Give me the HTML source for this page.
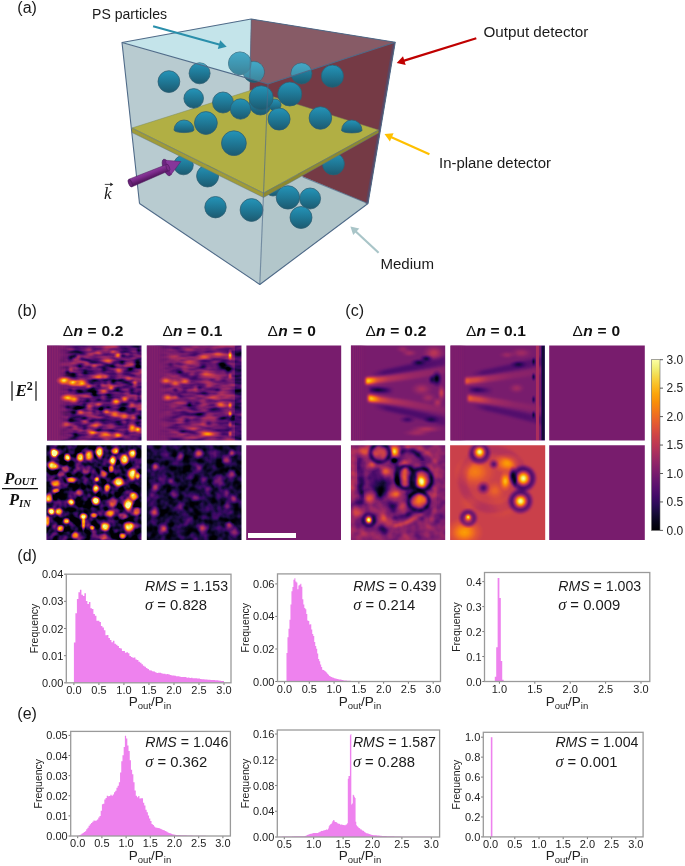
<!DOCTYPE html><html><head><meta charset="utf-8"><style>html,body{margin:0;padding:0;background:#fff;}svg{display:block;will-change:transform;}</style></head><body>
<svg width="685" height="866" viewBox="0 0 685 866">
<defs>
<linearGradient id="sph" x1="0" y1="0" x2="0" y2="1">
 <stop offset="0" stop-color="#2494b8"/>
 <stop offset="0.5" stop-color="#1f7896"/>
 <stop offset="1" stop-color="#1c5a70"/>
</linearGradient>
<linearGradient id="sphL" x1="0" y1="0" x2="0" y2="1">
 <stop offset="0" stop-color="#38acd0"/>
 <stop offset="0.6" stop-color="#2a8eb0"/>
 <stop offset="1" stop-color="#25708c"/>
</linearGradient>
<linearGradient id="purp" x1="0" y1="0" x2="0" y2="1">
 <stop offset="0" stop-color="#8a3a9a"/>
 <stop offset="0.5" stop-color="#7a2a88"/>
 <stop offset="1" stop-color="#4e1558"/>
</linearGradient>
<filter id="inf" x="-5%" y="-5%" width="110%" height="110%" color-interpolation-filters="sRGB"><feComponentTransfer><feFuncR type="table" tableValues="0.001 0.008 0.019 0.042 0.066 0.099 0.129 0.170 0.204 0.245 0.278 0.310 0.348 0.379 0.416 0.447 0.485 0.516 0.553 0.585 0.616 0.652 0.683 0.718 0.747 0.781 0.807 0.837 0.861 0.882 0.906 0.923 0.942 0.955 0.967 0.976 0.983 0.987 0.988 0.987 0.983 0.976 0.968 0.957 0.949 0.948 0.962 0.988"/><feFuncG type="table" tableValues="0.000 0.006 0.015 0.028 0.039 0.046 0.047 0.042 0.038 0.037 0.042 0.051 0.065 0.076 0.090 0.102 0.115 0.126 0.139 0.150 0.162 0.176 0.190 0.207 0.222 0.243 0.263 0.288 0.312 0.337 0.370 0.399 0.436 0.469 0.509 0.544 0.587 0.623 0.660 0.706 0.744 0.790 0.829 0.874 0.910 0.949 0.976 0.998"/><feFuncB type="table" tableValues="0.014 0.047 0.089 0.141 0.187 0.244 0.291 0.341 0.373 0.400 0.414 0.424 0.430 0.433 0.433 0.431 0.427 0.421 0.412 0.402 0.391 0.376 0.361 0.341 0.323 0.300 0.279 0.253 0.231 0.208 0.179 0.155 0.125 0.100 0.069 0.044 0.025 0.028 0.052 0.096 0.138 0.196 0.250 0.324 0.395 0.491 0.572 0.645"/><feFuncA type="identity"/></feComponentTransfer></filter><radialGradient id="gw2"><stop offset="0.00" stop-color="#fff" stop-opacity="1.00"/><stop offset="0.30" stop-color="#fff" stop-opacity="0.96"/><stop offset="0.50" stop-color="#fff" stop-opacity="0.70"/><stop offset="0.70" stop-color="#fff" stop-opacity="0.30"/><stop offset="0.85" stop-color="#fff" stop-opacity="0.08"/><stop offset="1.00" stop-color="#fff" stop-opacity="0.00"/></radialGradient><radialGradient id="gk2"><stop offset="0.00" stop-color="#000" stop-opacity="1.00"/><stop offset="0.30" stop-color="#000" stop-opacity="0.96"/><stop offset="0.50" stop-color="#000" stop-opacity="0.70"/><stop offset="0.70" stop-color="#000" stop-opacity="0.30"/><stop offset="0.85" stop-color="#000" stop-opacity="0.08"/><stop offset="1.00" stop-color="#000" stop-opacity="0.00"/></radialGradient><radialGradient id="gw"><stop offset="0.00" stop-color="#fff" stop-opacity="1.00"/><stop offset="0.20" stop-color="#fff" stop-opacity="0.88"/><stop offset="0.40" stop-color="#fff" stop-opacity="0.61"/><stop offset="0.60" stop-color="#fff" stop-opacity="0.32"/><stop offset="0.80" stop-color="#fff" stop-opacity="0.13"/><stop offset="1.00" stop-color="#fff" stop-opacity="0.00"/></radialGradient><radialGradient id="gk"><stop offset="0.00" stop-color="#000" stop-opacity="1.00"/><stop offset="0.20" stop-color="#000" stop-opacity="0.88"/><stop offset="0.40" stop-color="#000" stop-opacity="0.61"/><stop offset="0.60" stop-color="#000" stop-opacity="0.32"/><stop offset="0.80" stop-color="#000" stop-opacity="0.13"/><stop offset="1.00" stop-color="#000" stop-opacity="0.00"/></radialGradient><filter id="rb" x="-20%" y="-20%" width="140%" height="140%"><feGaussianBlur stdDeviation="0.9"/></filter><filter id="rb2" x="-30%" y="-30%" width="160%" height="160%"><feGaussianBlur stdDeviation="1.8"/></filter></defs>
<rect width="685" height="866" fill="#fff"/>
<polygon points="122.0,42.5 268.0,84.0 395.2,42.2 368.0,203.5 259.8,284.5 139.5,203.5" fill="#b8cbd0"/>
<polygon points="268.0,84.0 395.2,42.2 368.0,203.5 259.8,284.5" fill="#b2c6ca"/>
<polygon points="122.0,42.5 251.2,19.0 249.9,78.9" fill="#c4e4ea"/>
<polygon points="251.2,19.0 395.2,42.2 368.0,203.5 248.3,154.0" fill="#753a45"/>
<polygon points="251.2,19.0 395.2,42.2 268.0,84.0 249.9,78.9" fill="#875b66"/>
<polygon points="395.2,42.2 392.6,42.8 365.6,203.8 368.0,203.5" fill="#5d4560"/>
<circle cx="183.5" cy="165.0" r="9.8" fill="url(#sph)" stroke="#2d5e72" stroke-width="0.75"/>
<circle cx="207.6" cy="176.0" r="11.0" fill="url(#sph)" stroke="#2d5e72" stroke-width="0.75"/>
<circle cx="273.0" cy="188.5" r="7.5" fill="url(#sph)" stroke="#2d5e72" stroke-width="0.75"/>
<circle cx="333.4" cy="163.9" r="11.0" fill="url(#sph)" stroke="#2d5e72" stroke-width="0.75"/>
<circle cx="215.5" cy="207.2" r="10.7" fill="url(#sph)" stroke="#2d5e72" stroke-width="0.75"/>
<circle cx="251.5" cy="210.0" r="11.4" fill="url(#sph)" stroke="#2d5e72" stroke-width="0.75"/>
<circle cx="287.9" cy="197.4" r="11.7" fill="url(#sph)" stroke="#2d5e72" stroke-width="0.75"/>
<circle cx="310.1" cy="198.5" r="10.5" fill="url(#sph)" stroke="#2d5e72" stroke-width="0.75"/>
<circle cx="301.0" cy="217.5" r="11.0" fill="url(#sph)" stroke="#2d5e72" stroke-width="0.75"/>
<polygon points="132.0,128.0 263.5,193.0 263.5,197.5 132.0,132.5" fill="#a09b37"/>
<polygon points="263.5,193.0 378.5,130.0 378.5,133.0 263.5,197.5" fill="#8d892f"/>
<polygon points="132.0,128.0 252.0,90.0 378.5,130.0 263.5,193.0" fill="#b1af44" stroke="#7d8a5a" stroke-width="0.5"/>
<polyline points="132.0,128.0 263.5,193.0 378.5,130.0" fill="none" stroke="#5f7480" stroke-width="0.6" opacity="0.8"/>
<polyline points="132.0,132.5 263.5,197.5 378.5,133.0" fill="none" stroke="#5f7480" stroke-width="0.6" opacity="0.8"/>
<path d="M174.0,130.0 A10.0,10.0 0 0 1 194.0,130.0 A10.0,2.6 0 0 1 174.0,130.0 Z" fill="url(#sph)" stroke="#2d5e72" stroke-width="0.75"/>
<path d="M341.6,130.3 A10.2,10.3 0 0 1 362.0,130.3 A10.2,2.6 0 0 1 341.6,130.3 Z" fill="url(#sph)" stroke="#2d5e72" stroke-width="0.75"/>
<circle cx="301.5" cy="73.5" r="10.5" fill="url(#sph)" stroke="#2d5e72" stroke-width="0.75"/>
<circle cx="332.4" cy="76.2" r="11.1" fill="url(#sph)" stroke="#2d5e72" stroke-width="0.75"/>
<circle cx="253.8" cy="72.0" r="10.5" fill="url(#sph)" stroke="#2d5e72" stroke-width="0.75"/>
<circle cx="239.9" cy="63.3" r="11.4" fill="url(#sph)" stroke="#2d5e72" stroke-width="0.75"/>
<circle cx="168.9" cy="81.6" r="10.9" fill="url(#sph)" stroke="#2d5e72" stroke-width="0.75"/>
<circle cx="199.6" cy="73.3" r="10.5" fill="url(#sph)" stroke="#2d5e72" stroke-width="0.75"/>
<circle cx="193.7" cy="98.4" r="9.8" fill="url(#sph)" stroke="#2d5e72" stroke-width="0.75"/>
<circle cx="260.4" cy="104.0" r="11.0" fill="url(#sph)" stroke="#2d5e72" stroke-width="0.75"/>
<circle cx="275.0" cy="105.0" r="6.0" fill="url(#sph)" stroke="#2d5e72" stroke-width="0.75"/>
<circle cx="261.2" cy="97.7" r="12.0" fill="url(#sph)" stroke="#2d5e72" stroke-width="0.75"/>
<circle cx="289.8" cy="94.0" r="12.0" fill="url(#sph)" stroke="#2d5e72" stroke-width="0.75"/>
<circle cx="223.0" cy="102.5" r="10.5" fill="url(#sph)" stroke="#2d5e72" stroke-width="0.75"/>
<circle cx="240.5" cy="109.0" r="10.2" fill="url(#sph)" stroke="#2d5e72" stroke-width="0.75"/>
<circle cx="205.9" cy="123.0" r="11.4" fill="url(#sph)" stroke="#2d5e72" stroke-width="0.75"/>
<circle cx="233.9" cy="143.2" r="12.4" fill="url(#sph)" stroke="#2d5e72" stroke-width="0.75"/>
<circle cx="279.1" cy="119.1" r="11.0" fill="url(#sph)" stroke="#2d5e72" stroke-width="0.75"/>
<circle cx="320.4" cy="118.0" r="11.3" fill="url(#sph)" stroke="#2d5e72" stroke-width="0.75"/>
<clipPath id="topL"><polygon points="122.0,42.5 251.2,19.0 395.2,42.2 268.0,84.0"/></clipPath>
<g clip-path="url(#topL)" opacity="0.35">
<circle cx="301.5" cy="73.5" r="10.5" fill="#7fd0e6"/>
<circle cx="332.4" cy="76.2" r="11.1" fill="#7fd0e6"/>
<circle cx="253.8" cy="72.0" r="10.5" fill="#7fd0e6"/>
<circle cx="239.9" cy="63.3" r="11.4" fill="#7fd0e6"/>
<circle cx="168.9" cy="81.6" r="10.9" fill="#7fd0e6"/>
<circle cx="199.6" cy="73.3" r="10.5" fill="#7fd0e6"/>
<circle cx="193.7" cy="98.4" r="9.8" fill="#7fd0e6"/>
<circle cx="260.4" cy="104.0" r="11.0" fill="#7fd0e6"/>
<circle cx="275.0" cy="105.0" r="6.0" fill="#7fd0e6"/>
<circle cx="261.2" cy="97.7" r="12.0" fill="#7fd0e6"/>
<circle cx="289.8" cy="94.0" r="12.0" fill="#7fd0e6"/>
<circle cx="223.0" cy="102.5" r="10.5" fill="#7fd0e6"/>
<circle cx="240.5" cy="109.0" r="10.2" fill="#7fd0e6"/>
<circle cx="205.9" cy="123.0" r="11.4" fill="#7fd0e6"/>
<circle cx="233.9" cy="143.2" r="12.4" fill="#7fd0e6"/>
<circle cx="279.1" cy="119.1" r="11.0" fill="#7fd0e6"/>
<circle cx="320.4" cy="118.0" r="11.3" fill="#7fd0e6"/>
</g>
<polyline points="139.5,203.5 122.0,42.5 251.2,19.0 395.2,42.2 368.0,203.5 259.8,284.5 139.5,203.5" stroke="#4f6a88" stroke-width="1.1" fill="none" stroke-linejoin="round"/>
<polyline points="122.0,42.5 268.0,84.0 395.2,42.2" stroke="#4f6a88" stroke-width="1.1" fill="none" stroke-linejoin="round"/>
<line x1="268.0" y1="84.0" x2="259.8" y2="284.5" stroke="#4f6a88" stroke-width="1.1" fill="none" stroke-linejoin="round" opacity="0.65"/>
<line x1="251.2" y1="19.0" x2="249.9" y2="78.9" stroke="#4f6a88" stroke-width="1.1" fill="none" stroke-linejoin="round" opacity="0.6"/>
<line x1="302.8" y1="177.0" x2="368.0" y2="203.5" stroke="#4f6a88" stroke-width="1.1" fill="none" stroke-linejoin="round" opacity="0.7"/>
<linearGradient id="shaftG" gradientUnits="userSpaceOnUse" x1="146.5" y1="169.5" x2="149.9" y2="178.2"><stop offset="0" stop-color="#5a1a68"/><stop offset="0.25" stop-color="#8c3c9c"/><stop offset="0.6" stop-color="#7a2a89"/><stop offset="1" stop-color="#561862"/></linearGradient>
<ellipse cx="166.8" cy="167.5" rx="3.6" ry="8.8" transform="rotate(-21.4 166.8 167.5)" fill="#6d2380" stroke="#4a1a5a" stroke-width="0.6"/>
<path d="M165.2,160.2 L180.8,161.6 L170.8,174.9 Q167.5,168 165.2,160.2 Z" fill="#86369a" stroke="#5a1a66" stroke-width="0.5"/>
<polygon points="128.9,179.2 167,164.3 168.8,170.8 131.6,187" fill="url(#shaftG)" stroke="#4a1a5a" stroke-width="0.5"/>
<ellipse cx="167.9" cy="167.55" rx="1.6" ry="3.6" transform="rotate(-21.4 167.9 167.55)" fill="#7a2a88" stroke="#4a1a5a" stroke-width="0.5"/>
<ellipse cx="130.25" cy="183.1" rx="1.7" ry="4" transform="rotate(-21.4 130.25 183.1)" fill="#6a2278" stroke="#4a1a5a" stroke-width="0.6"/>
<line x1="153.1" y1="26.2" x2="220.0" y2="44.8" stroke="#2a8fab" stroke-width="2.2"/><polygon points="226.7,46.7 217.8,48.9 220.2,40.2" fill="#2a8fab"/>
<line x1="476.3" y1="38.3" x2="403.4" y2="60.9" stroke="#c00000" stroke-width="2.2"/><polygon points="396.7,63.0 403.0,56.3 405.7,64.9" fill="#c00000"/>
<line x1="429.4" y1="154.3" x2="390.9" y2="137.0" stroke="#ffc000" stroke-width="2.2"/><polygon points="384.5,134.1 393.6,133.3 389.9,141.5" fill="#ffc000"/>
<line x1="378.6" y1="252.7" x2="355.5" y2="231.2" stroke="#a9c5c8" stroke-width="2.2"/><polygon points="350.4,226.4 359.3,228.6 353.2,235.1" fill="#a9c5c8"/>
<text x="17.3" y="12.7" font-size="16" font-family="Liberation Sans, sans-serif" fill="#1a1a1a">(a)</text>
<text x="92" y="19.3" font-size="14" font-family="Liberation Sans, sans-serif" fill="#1a1a1a" textLength="75" lengthAdjust="spacingAndGlyphs">PS particles</text>
<text x="483.4" y="37.3" font-size="14" font-family="Liberation Sans, sans-serif" fill="#1a1a1a" textLength="105" lengthAdjust="spacingAndGlyphs">Output detector</text>
<text x="439" y="168.4" font-size="14" font-family="Liberation Sans, sans-serif" fill="#1a1a1a" textLength="112" lengthAdjust="spacingAndGlyphs">In-plane detector</text>
<text x="380.4" y="268.7" font-size="14" font-family="Liberation Sans, sans-serif" fill="#1a1a1a" textLength="53.6" lengthAdjust="spacingAndGlyphs">Medium</text>
<text x="104" y="198.6" font-size="17" font-family="Liberation Serif, serif" font-style="italic" fill="#1a1a1a">k</text>
<path d="M104.8,184.4 H111" stroke="#333" stroke-width="0.9" fill="none"/><polygon points="110.3,182.5 113.3,184.4 110.3,186.3" fill="#222"/>
<clipPath id="cp_b1"><rect x="47.00" y="345.40" width="94.50" height="95.10"/></clipPath>
<filter id="nf_b1" x="0" y="0" width="1" height="1" color-interpolation-filters="sRGB"><feTurbulence type="fractalNoise" baseFrequency="0.060 0.180" numOctaves="2" seed="3" result="t"/><feColorMatrix in="t" type="matrix" values="1 0 0 0 0  1 0 0 0 0  1 0 0 0 0  0 0 0 0 1" result="ng"/><feComposite in="SourceGraphic" in2="ng" operator="arithmetic" k1="0" k2="1" k3="0.750" k4="-0.375"/><feColorMatrix type="matrix" values="1 0 0 0 0  0 1 0 0 0  0 0 1 0 0  0 0 0 0 1"/><feComponentTransfer><feFuncR type="table" tableValues="0.001 0.008 0.019 0.042 0.066 0.099 0.129 0.170 0.204 0.245 0.278 0.310 0.348 0.379 0.416 0.447 0.485 0.516 0.553 0.585 0.616 0.652 0.683 0.718 0.747 0.781 0.807 0.837 0.861 0.882 0.906 0.923 0.942 0.955 0.967 0.976 0.983 0.987 0.988 0.987 0.983 0.976 0.968 0.957 0.949 0.948 0.962 0.988"/><feFuncG type="table" tableValues="0.000 0.006 0.015 0.028 0.039 0.046 0.047 0.042 0.038 0.037 0.042 0.051 0.065 0.076 0.090 0.102 0.115 0.126 0.139 0.150 0.162 0.176 0.190 0.207 0.222 0.243 0.263 0.288 0.312 0.337 0.370 0.399 0.436 0.469 0.509 0.544 0.587 0.623 0.660 0.706 0.744 0.790 0.829 0.874 0.910 0.949 0.976 0.998"/><feFuncB type="table" tableValues="0.014 0.047 0.089 0.141 0.187 0.244 0.291 0.341 0.373 0.400 0.414 0.424 0.430 0.433 0.433 0.431 0.427 0.421 0.412 0.402 0.391 0.376 0.361 0.341 0.323 0.300 0.279 0.253 0.231 0.208 0.179 0.155 0.125 0.100 0.069 0.044 0.025 0.028 0.052 0.096 0.138 0.196 0.250 0.324 0.395 0.491 0.572 0.645"/><feFuncA type="identity"/></feComponentTransfer></filter>
<g clip-path="url(#cp_b1)"><g filter="url(#nf_b1)">
<g transform="translate(47.00 345.40) scale(0.9450 0.9510)">
<rect x="-3" y="-3" width="106" height="106" fill="#484848"/>
<ellipse cx="25.0" cy="14.0" rx="5.1" ry="5.1" fill="url(#gk)" opacity="0.76"/>
<ellipse cx="22.0" cy="28.0" rx="5.1" ry="5.1" fill="url(#gk)" opacity="0.65"/>
<ellipse cx="28.0" cy="30.0" rx="6.8" ry="5.1" fill="url(#gk)" opacity="0.76"/>
<ellipse cx="40.0" cy="28.0" rx="5.1" ry="5.1" fill="url(#gk)" opacity="0.65"/>
<ellipse cx="45.0" cy="46.0" rx="6.8" ry="5.1" fill="url(#gk)" opacity="0.76"/>
<ellipse cx="50.0" cy="50.0" rx="5.1" ry="6.8" fill="url(#gk)" opacity="0.88"/>
<ellipse cx="55.0" cy="42.0" rx="5.1" ry="5.1" fill="url(#gk)" opacity="0.65"/>
<ellipse cx="62.0" cy="40.0" rx="5.1" ry="5.1" fill="url(#gk)" opacity="0.76"/>
<ellipse cx="70.0" cy="38.0" rx="5.1" ry="5.1" fill="url(#gk)" opacity="0.76"/>
<ellipse cx="75.0" cy="45.0" rx="5.1" ry="5.1" fill="url(#gk)" opacity="0.65"/>
<ellipse cx="70.0" cy="20.0" rx="5.1" ry="5.1" fill="url(#gk)" opacity="0.65"/>
<ellipse cx="80.0" cy="18.0" rx="5.1" ry="5.1" fill="url(#gk)" opacity="0.76"/>
<ellipse cx="88.0" cy="25.0" rx="6.8" ry="5.1" fill="url(#gk)" opacity="0.76"/>
<ellipse cx="96.0" cy="20.0" rx="5.1" ry="8.5" fill="url(#gk)" opacity="0.65"/>
<ellipse cx="60.0" cy="25.0" rx="5.1" ry="5.1" fill="url(#gk)" opacity="0.65"/>
<ellipse cx="43.0" cy="58.0" rx="5.1" ry="5.1" fill="url(#gk)" opacity="0.65"/>
<ellipse cx="55.0" cy="56.0" rx="5.1" ry="5.1" fill="url(#gk)" opacity="0.65"/>
<ellipse cx="65.0" cy="52.0" rx="6.8" ry="4.2" fill="url(#gk)" opacity="0.65"/>
<ellipse cx="80.0" cy="50.0" rx="6.8" ry="4.2" fill="url(#gk)" opacity="0.65"/>
<ellipse cx="90.0" cy="48.0" rx="5.1" ry="5.1" fill="url(#gk)" opacity="0.76"/>
<ellipse cx="33.0" cy="66.0" rx="6.8" ry="5.1" fill="url(#gk)" opacity="0.65"/>
<ellipse cx="40.0" cy="62.0" rx="5.1" ry="5.1" fill="url(#gk)" opacity="0.76"/>
<ellipse cx="50.0" cy="70.0" rx="5.1" ry="5.1" fill="url(#gk)" opacity="0.76"/>
<ellipse cx="57.0" cy="67.0" rx="5.1" ry="5.1" fill="url(#gk)" opacity="0.65"/>
<ellipse cx="65.0" cy="65.0" rx="5.1" ry="4.2" fill="url(#gk)" opacity="0.65"/>
<ellipse cx="80.0" cy="66.0" rx="8.5" ry="4.2" fill="url(#gk)" opacity="0.65"/>
<ellipse cx="92.0" cy="68.0" rx="5.1" ry="5.1" fill="url(#gk)" opacity="0.76"/>
<ellipse cx="40.0" cy="77.0" rx="5.1" ry="5.1" fill="url(#gk)" opacity="0.65"/>
<ellipse cx="48.0" cy="80.0" rx="6.8" ry="4.2" fill="url(#gk)" opacity="0.76"/>
<ellipse cx="60.0" cy="82.0" rx="6.8" ry="4.2" fill="url(#gk)" opacity="0.65"/>
<ellipse cx="75.0" cy="80.0" rx="8.5" ry="4.2" fill="url(#gk)" opacity="0.65"/>
<ellipse cx="85.0" cy="80.0" rx="5.1" ry="5.1" fill="url(#gk)" opacity="0.76"/>
<ellipse cx="96.0" cy="82.0" rx="5.1" ry="5.1" fill="url(#gk)" opacity="0.65"/>
<ellipse cx="25.0" cy="78.0" rx="5.1" ry="5.1" fill="url(#gk)" opacity="0.65"/>
<ellipse cx="30.0" cy="93.0" rx="5.1" ry="5.1" fill="url(#gk)" opacity="0.53"/>
<ellipse cx="40.0" cy="88.0" rx="5.1" ry="5.1" fill="url(#gk)" opacity="0.65"/>
<ellipse cx="55.0" cy="87.0" rx="5.1" ry="4.2" fill="url(#gk)" opacity="0.65"/>
<ellipse cx="85.0" cy="92.0" rx="5.1" ry="5.1" fill="url(#gk)" opacity="0.65"/>
<ellipse cx="33.0" cy="47.0" rx="6.8" ry="5.1" fill="url(#gk)" opacity="0.53"/>
<ellipse cx="25.0" cy="47.0" rx="5.1" ry="4.2" fill="url(#gk)" opacity="0.41"/>
<ellipse cx="22.0" cy="65.0" rx="5.1" ry="5.1" fill="url(#gk)" opacity="0.41"/>
<ellipse cx="28.0" cy="72.0" rx="5.1" ry="5.1" fill="url(#gk)" opacity="0.53"/>
<ellipse cx="35.0" cy="22.0" rx="5.1" ry="5.1" fill="url(#gk)" opacity="0.65"/>
<ellipse cx="97.0" cy="55.0" rx="3.4" ry="6.8" fill="url(#gk)" opacity="0.65"/>
<ellipse cx="97.0" cy="5.0" rx="3.4" ry="5.1" fill="url(#gk)" opacity="0.65"/>
<ellipse cx="18.0" cy="37.0" rx="8.4" ry="4.9" fill="url(#gw)" opacity="0.91"/>
<ellipse cx="27.0" cy="39.0" rx="8.4" ry="4.9" fill="url(#gw)" opacity="0.86"/>
<ellipse cx="37.0" cy="39.0" rx="8.4" ry="4.9" fill="url(#gw)" opacity="0.77"/>
<ellipse cx="44.0" cy="43.0" rx="5.6" ry="4.2" fill="url(#gw)" opacity="0.53"/>
<ellipse cx="22.0" cy="55.0" rx="8.4" ry="4.9" fill="url(#gw)" opacity="0.81"/>
<ellipse cx="29.0" cy="57.0" rx="7.0" ry="4.9" fill="url(#gw)" opacity="0.72"/>
<ellipse cx="55.0" cy="33.0" rx="8.4" ry="4.9" fill="url(#gw)" opacity="0.58"/>
<ellipse cx="62.0" cy="33.0" rx="5.6" ry="4.2" fill="url(#gw)" opacity="0.49"/>
<ellipse cx="42.0" cy="19.0" rx="5.6" ry="4.2" fill="url(#gw)" opacity="0.33"/>
<ellipse cx="50.0" cy="22.0" rx="5.6" ry="4.2" fill="url(#gw)" opacity="0.28"/>
<ellipse cx="65.0" cy="16.0" rx="7.0" ry="4.2" fill="url(#gw)" opacity="0.33"/>
<ellipse cx="75.0" cy="10.0" rx="4.9" ry="4.9" fill="url(#gw)" opacity="0.65"/>
<ellipse cx="70.0" cy="7.0" rx="5.6" ry="3.5" fill="url(#gw)" opacity="0.37"/>
<ellipse cx="85.0" cy="10.0" rx="5.6" ry="4.2" fill="url(#gw)" opacity="0.33"/>
<ellipse cx="76.0" cy="26.0" rx="6.3" ry="4.9" fill="url(#gw)" opacity="0.47"/>
<ellipse cx="86.0" cy="34.0" rx="7.0" ry="4.2" fill="url(#gw)" opacity="0.49"/>
<ellipse cx="93.0" cy="40.0" rx="4.2" ry="5.6" fill="url(#gw)" opacity="0.44"/>
<ellipse cx="60.0" cy="48.0" rx="7.0" ry="4.2" fill="url(#gw)" opacity="0.35"/>
<ellipse cx="68.0" cy="45.0" rx="4.2" ry="4.2" fill="url(#gw)" opacity="0.40"/>
<ellipse cx="73.0" cy="59.0" rx="7.0" ry="4.9" fill="url(#gw)" opacity="0.63"/>
<ellipse cx="82.0" cy="57.0" rx="5.6" ry="4.2" fill="url(#gw)" opacity="0.53"/>
<ellipse cx="90.0" cy="62.0" rx="5.6" ry="4.2" fill="url(#gw)" opacity="0.44"/>
<ellipse cx="63.0" cy="70.0" rx="5.6" ry="4.2" fill="url(#gw)" opacity="0.44"/>
<ellipse cx="72.0" cy="73.0" rx="8.4" ry="4.9" fill="url(#gw)" opacity="0.58"/>
<ellipse cx="82.0" cy="74.0" rx="7.0" ry="4.9" fill="url(#gw)" opacity="0.53"/>
<ellipse cx="92.0" cy="76.0" rx="5.6" ry="4.2" fill="url(#gw)" opacity="0.49"/>
<ellipse cx="52.0" cy="85.0" rx="7.0" ry="4.2" fill="url(#gw)" opacity="0.40"/>
<ellipse cx="40.0" cy="80.0" rx="5.6" ry="4.2" fill="url(#gw)" opacity="0.35"/>
<ellipse cx="30.0" cy="86.0" rx="5.6" ry="4.2" fill="url(#gw)" opacity="0.35"/>
<ellipse cx="20.0" cy="83.0" rx="5.6" ry="4.2" fill="url(#gw)" opacity="0.30"/>
<ellipse cx="48.0" cy="92.0" rx="7.0" ry="4.2" fill="url(#gw)" opacity="0.49"/>
<ellipse cx="62.0" cy="93.0" rx="11.2" ry="4.9" fill="url(#gw)" opacity="0.72"/>
<ellipse cx="75.0" cy="94.0" rx="7.0" ry="4.2" fill="url(#gw)" opacity="0.58"/>
<ellipse cx="90.0" cy="86.0" rx="6.3" ry="6.3" fill="url(#gw)" opacity="0.77"/>
<ellipse cx="96.0" cy="88.0" rx="4.2" ry="4.2" fill="url(#gw)" opacity="0.63"/>
<ellipse cx="35.0" cy="70.0" rx="5.6" ry="4.2" fill="url(#gw)" opacity="0.35"/>
<ellipse cx="45.0" cy="65.0" rx="5.6" ry="4.2" fill="url(#gw)" opacity="0.35"/>
<ellipse cx="55.0" cy="62.0" rx="5.6" ry="4.2" fill="url(#gw)" opacity="0.35"/>
<ellipse cx="25.0" cy="25.0" rx="4.2" ry="4.2" fill="url(#gw)" opacity="0.30"/>
<ellipse cx="33.0" cy="12.0" rx="4.2" ry="4.2" fill="url(#gw)" opacity="0.30"/>
<ellipse cx="55.0" cy="8.0" rx="5.6" ry="3.5" fill="url(#gw)" opacity="0.28"/>
<ellipse cx="45.0" cy="5.0" rx="5.6" ry="3.5" fill="url(#gw)" opacity="0.19"/>
<ellipse cx="90.0" cy="20.0" rx="5.6" ry="4.2" fill="url(#gw)" opacity="0.23"/>
</g></g>
<linearGradient id="lg_b1" x1="58.3400" y1="0" x2="75.3500" y2="0" gradientUnits="userSpaceOnUse"><stop offset="0" stop-color="#fff"/><stop offset="1" stop-color="#fff" stop-opacity="0"/></linearGradient>
<mask id="mk_b1"><rect x="47.00" y="345.40" width="94.50" height="95.10" fill="url(#lg_b1)"/></mask>
<g mask="url(#mk_b1)"><g filter="url(#inf)">
<g transform="translate(47.00 345.40) scale(0.9450 0.9510)">
<rect x="-3" y="-3" width="35.0" height="106" fill="#575757"/>
<rect x="0.0" y="0.0" width="1.2" height="100.0" fill="#646464" opacity="0.70"/>
<rect x="2.6" y="0.0" width="1.2" height="100.0" fill="#646464" opacity="0.68"/>
<rect x="5.2" y="0.0" width="1.2" height="100.0" fill="#646464" opacity="0.66"/>
<rect x="7.8" y="0.0" width="1.2" height="100.0" fill="#646464" opacity="0.65"/>
<rect x="10.4" y="0.0" width="1.2" height="100.0" fill="#646464" opacity="0.63"/>
<rect x="13.0" y="0.0" width="1.2" height="100.0" fill="#646464" opacity="0.61"/>
<rect x="15.6" y="0.0" width="1.2" height="100.0" fill="#646464" opacity="0.59"/>
<rect x="18.2" y="0.0" width="1.2" height="100.0" fill="#646464" opacity="0.57"/>
<rect x="20.8" y="0.0" width="1.2" height="100.0" fill="#646464" opacity="0.55"/>
<rect x="23.4" y="0.0" width="1.2" height="100.0" fill="#646464" opacity="0.54"/>
<rect x="26.0" y="0.0" width="1.2" height="100.0" fill="#646464" opacity="0.52"/>
<rect x="28.6" y="0.0" width="1.2" height="100.0" fill="#646464" opacity="0.50"/>
<ellipse cx="18.0" cy="37.0" rx="9.0" ry="5.2" fill="url(#gw)" opacity="0.90"/>
<ellipse cx="27.0" cy="39.0" rx="9.0" ry="5.2" fill="url(#gw)" opacity="0.85"/>
<ellipse cx="22.0" cy="55.0" rx="9.0" ry="5.2" fill="url(#gw)" opacity="0.80"/>
<ellipse cx="29.0" cy="57.0" rx="7.5" ry="5.2" fill="url(#gw)" opacity="0.70"/>
<ellipse cx="30.0" cy="86.0" rx="6.0" ry="4.5" fill="url(#gw)" opacity="0.29"/>
<ellipse cx="20.0" cy="83.0" rx="6.0" ry="4.5" fill="url(#gw)" opacity="0.24"/>
<ellipse cx="25.0" cy="25.0" rx="4.5" ry="4.5" fill="url(#gw)" opacity="0.24"/>
<ellipse cx="25.0" cy="14.0" rx="4.5" ry="4.5" fill="url(#gk)" opacity="0.80"/>
<ellipse cx="22.0" cy="28.0" rx="4.5" ry="4.5" fill="url(#gk)" opacity="0.71"/>
<ellipse cx="28.0" cy="30.0" rx="6.0" ry="4.5" fill="url(#gk)" opacity="0.80"/>
<ellipse cx="25.0" cy="78.0" rx="4.5" ry="4.5" fill="url(#gk)" opacity="0.71"/>
<ellipse cx="30.0" cy="93.0" rx="4.5" ry="4.5" fill="url(#gk)" opacity="0.61"/>
<ellipse cx="25.0" cy="47.0" rx="4.5" ry="3.8" fill="url(#gk)" opacity="0.51"/>
<ellipse cx="22.0" cy="65.0" rx="4.5" ry="4.5" fill="url(#gk)" opacity="0.51"/>
<ellipse cx="28.0" cy="72.0" rx="4.5" ry="4.5" fill="url(#gk)" opacity="0.61"/>
</g></g></g>
</g>
<clipPath id="cp_b2"><rect x="146.80" y="345.40" width="94.70" height="95.10"/></clipPath>
<filter id="nf_b2" x="0" y="0" width="1" height="1" color-interpolation-filters="sRGB"><feTurbulence type="fractalNoise" baseFrequency="0.060 0.180" numOctaves="2" seed="5" result="t"/><feColorMatrix in="t" type="matrix" values="1 0 0 0 0  1 0 0 0 0  1 0 0 0 0  0 0 0 0 1" result="ng"/><feComposite in="SourceGraphic" in2="ng" operator="arithmetic" k1="0" k2="1" k3="0.500" k4="-0.250"/><feColorMatrix type="matrix" values="1 0 0 0 0  0 1 0 0 0  0 0 1 0 0  0 0 0 0 1"/><feComponentTransfer><feFuncR type="table" tableValues="0.001 0.008 0.019 0.042 0.066 0.099 0.129 0.170 0.204 0.245 0.278 0.310 0.348 0.379 0.416 0.447 0.485 0.516 0.553 0.585 0.616 0.652 0.683 0.718 0.747 0.781 0.807 0.837 0.861 0.882 0.906 0.923 0.942 0.955 0.967 0.976 0.983 0.987 0.988 0.987 0.983 0.976 0.968 0.957 0.949 0.948 0.962 0.988"/><feFuncG type="table" tableValues="0.000 0.006 0.015 0.028 0.039 0.046 0.047 0.042 0.038 0.037 0.042 0.051 0.065 0.076 0.090 0.102 0.115 0.126 0.139 0.150 0.162 0.176 0.190 0.207 0.222 0.243 0.263 0.288 0.312 0.337 0.370 0.399 0.436 0.469 0.509 0.544 0.587 0.623 0.660 0.706 0.744 0.790 0.829 0.874 0.910 0.949 0.976 0.998"/><feFuncB type="table" tableValues="0.014 0.047 0.089 0.141 0.187 0.244 0.291 0.341 0.373 0.400 0.414 0.424 0.430 0.433 0.433 0.431 0.427 0.421 0.412 0.402 0.391 0.376 0.361 0.341 0.323 0.300 0.279 0.253 0.231 0.208 0.179 0.155 0.125 0.100 0.069 0.044 0.025 0.028 0.052 0.096 0.138 0.196 0.250 0.324 0.395 0.491 0.572 0.645"/><feFuncA type="identity"/></feComponentTransfer></filter>
<g clip-path="url(#cp_b2)"><g filter="url(#nf_b2)">
<g transform="translate(146.80 345.40) scale(0.9470 0.9510)">
<rect x="-3" y="-3" width="106" height="106" fill="#515151"/>
<ellipse cx="80.0" cy="20.0" rx="9.0" ry="9.0" fill="url(#gk)" opacity="0.89"/>
<ellipse cx="86.0" cy="25.0" rx="6.0" ry="6.0" fill="url(#gk)" opacity="0.89"/>
<ellipse cx="91.0" cy="76.0" rx="7.5" ry="7.5" fill="url(#gk)" opacity="0.95"/>
<ellipse cx="80.0" cy="77.0" rx="9.0" ry="3.8" fill="url(#gk)" opacity="0.79"/>
<ellipse cx="60.0" cy="50.0" rx="9.0" ry="3.8" fill="url(#gk)" opacity="0.79"/>
<ellipse cx="55.0" cy="45.0" rx="4.5" ry="4.5" fill="url(#gk)" opacity="0.58"/>
<ellipse cx="50.0" cy="66.0" rx="9.0" ry="3.8" fill="url(#gk)" opacity="0.68"/>
<ellipse cx="45.0" cy="62.0" rx="4.5" ry="4.5" fill="url(#gk)" opacity="0.68"/>
<ellipse cx="55.0" cy="73.0" rx="9.0" ry="3.8" fill="url(#gk)" opacity="0.68"/>
<ellipse cx="70.0" cy="68.0" rx="9.0" ry="3.8" fill="url(#gk)" opacity="0.68"/>
<ellipse cx="40.0" cy="48.0" rx="6.0" ry="4.5" fill="url(#gk)" opacity="0.58"/>
<ellipse cx="35.0" cy="28.0" rx="6.0" ry="4.5" fill="url(#gk)" opacity="0.58"/>
<ellipse cx="25.0" cy="20.0" rx="4.5" ry="4.5" fill="url(#gk)" opacity="0.47"/>
<ellipse cx="60.0" cy="22.0" rx="6.0" ry="4.5" fill="url(#gk)" opacity="0.58"/>
<ellipse cx="38.0" cy="90.0" rx="6.0" ry="3.8" fill="url(#gk)" opacity="0.47"/>
<ellipse cx="42.0" cy="78.0" rx="6.0" ry="3.8" fill="url(#gk)" opacity="0.58"/>
<ellipse cx="65.0" cy="82.0" rx="6.0" ry="3.8" fill="url(#gk)" opacity="0.58"/>
<ellipse cx="75.0" cy="47.0" rx="6.0" ry="3.8" fill="url(#gk)" opacity="0.58"/>
<ellipse cx="30.0" cy="47.0" rx="4.5" ry="3.8" fill="url(#gk)" opacity="0.47"/>
<ellipse cx="20.0" cy="37.0" rx="7.5" ry="5.2" fill="url(#gw)" opacity="0.51"/>
<ellipse cx="31.0" cy="40.0" rx="9.0" ry="5.2" fill="url(#gw)" opacity="0.54"/>
<ellipse cx="40.0" cy="38.0" rx="7.5" ry="4.5" fill="url(#gw)" opacity="0.41"/>
<ellipse cx="22.0" cy="55.0" rx="7.5" ry="5.2" fill="url(#gw)" opacity="0.49"/>
<ellipse cx="30.0" cy="54.0" rx="6.0" ry="4.5" fill="url(#gw)" opacity="0.37"/>
<ellipse cx="45.0" cy="18.0" rx="12.0" ry="4.5" fill="url(#gw)" opacity="0.32"/>
<ellipse cx="62.0" cy="12.0" rx="12.0" ry="4.5" fill="url(#gw)" opacity="0.37"/>
<ellipse cx="75.0" cy="9.0" rx="13.5" ry="4.5" fill="url(#gw)" opacity="0.46"/>
<ellipse cx="88.0" cy="10.0" rx="3.0" ry="6.8" fill="url(#gw)" opacity="0.80"/>
<ellipse cx="88.0" cy="32.0" rx="3.0" ry="4.5" fill="url(#gw)" opacity="0.41"/>
<ellipse cx="88.0" cy="63.0" rx="3.0" ry="4.5" fill="url(#gw)" opacity="0.56"/>
<ellipse cx="88.0" cy="72.0" rx="3.0" ry="4.5" fill="url(#gw)" opacity="0.61"/>
<ellipse cx="88.0" cy="83.0" rx="3.0" ry="4.5" fill="url(#gw)" opacity="0.41"/>
<ellipse cx="88.0" cy="93.0" rx="3.0" ry="4.5" fill="url(#gw)" opacity="0.51"/>
<ellipse cx="70.0" cy="55.0" rx="9.0" ry="4.5" fill="url(#gw)" opacity="0.41"/>
<ellipse cx="78.0" cy="62.0" rx="7.5" ry="4.5" fill="url(#gw)" opacity="0.41"/>
<ellipse cx="60.0" cy="60.0" rx="7.5" ry="4.5" fill="url(#gw)" opacity="0.27"/>
<ellipse cx="75.0" cy="35.0" rx="7.5" ry="4.5" fill="url(#gw)" opacity="0.32"/>
<ellipse cx="62.0" cy="30.0" rx="7.5" ry="4.5" fill="url(#gw)" opacity="0.27"/>
<ellipse cx="48.0" cy="30.0" rx="6.0" ry="4.5" fill="url(#gw)" opacity="0.27"/>
<ellipse cx="65.0" cy="93.0" rx="15.0" ry="5.2" fill="url(#gw)" opacity="0.51"/>
<ellipse cx="50.0" cy="88.0" rx="9.0" ry="4.5" fill="url(#gw)" opacity="0.32"/>
<ellipse cx="35.0" cy="82.0" rx="7.5" ry="4.5" fill="url(#gw)" opacity="0.22"/>
<ellipse cx="52.0" cy="45.0" rx="6.0" ry="4.5" fill="url(#gw)" opacity="0.22"/>
<ellipse cx="65.0" cy="42.0" rx="6.0" ry="4.5" fill="url(#gw)" opacity="0.22"/>
<ellipse cx="40.0" cy="22.0" rx="6.0" ry="4.5" fill="url(#gw)" opacity="0.17"/>
<rect x="93.0" y="0.0" width="7.0" height="100.0" fill="#2f2f2f" opacity="1.00"/>
</g></g>
<linearGradient id="lg_b2" x1="158.1640" y1="0" x2="177.1040" y2="0" gradientUnits="userSpaceOnUse"><stop offset="0" stop-color="#fff"/><stop offset="1" stop-color="#fff" stop-opacity="0"/></linearGradient>
<mask id="mk_b2"><rect x="146.80" y="345.40" width="94.70" height="95.10" fill="url(#lg_b2)"/></mask>
<g mask="url(#mk_b2)"><g filter="url(#inf)">
<g transform="translate(146.80 345.40) scale(0.9470 0.9510)">
<rect x="-3" y="-3" width="37.0" height="106" fill="#555555"/>
<rect x="0.0" y="0.0" width="1.2" height="100.0" fill="#616161" opacity="0.70"/>
<rect x="2.6" y="0.0" width="1.2" height="100.0" fill="#616161" opacity="0.68"/>
<rect x="5.2" y="0.0" width="1.2" height="100.0" fill="#616161" opacity="0.66"/>
<rect x="7.8" y="0.0" width="1.2" height="100.0" fill="#616161" opacity="0.65"/>
<rect x="10.4" y="0.0" width="1.2" height="100.0" fill="#616161" opacity="0.63"/>
<rect x="13.0" y="0.0" width="1.2" height="100.0" fill="#616161" opacity="0.61"/>
<rect x="15.6" y="0.0" width="1.2" height="100.0" fill="#616161" opacity="0.59"/>
<rect x="18.2" y="0.0" width="1.2" height="100.0" fill="#616161" opacity="0.57"/>
<rect x="20.8" y="0.0" width="1.2" height="100.0" fill="#616161" opacity="0.55"/>
<rect x="23.4" y="0.0" width="1.2" height="100.0" fill="#616161" opacity="0.54"/>
<rect x="26.0" y="0.0" width="1.2" height="100.0" fill="#616161" opacity="0.52"/>
<rect x="28.6" y="0.0" width="1.2" height="100.0" fill="#616161" opacity="0.50"/>
<ellipse cx="20.0" cy="37.0" rx="7.5" ry="5.2" fill="url(#gw)" opacity="0.50"/>
<ellipse cx="31.0" cy="40.0" rx="9.0" ry="5.2" fill="url(#gw)" opacity="0.52"/>
<ellipse cx="22.0" cy="55.0" rx="7.5" ry="5.2" fill="url(#gw)" opacity="0.47"/>
<ellipse cx="30.0" cy="54.0" rx="6.0" ry="4.5" fill="url(#gw)" opacity="0.35"/>
</g></g></g>
</g>
<clipPath id="cp_b3"><rect x="246.40" y="345.40" width="94.80" height="95.10"/></clipPath>
<g clip-path="url(#cp_b3)"><g filter="url(#inf)">
<g transform="translate(246.40 345.40) scale(0.9480 0.9510)">
<rect x="-3" y="-3" width="106" height="106" fill="#555555"/>
</g></g>
</g>
<clipPath id="cp_c1"><rect x="350.90" y="345.40" width="94.30" height="95.10"/></clipPath>
<g clip-path="url(#cp_c1)"><g filter="url(#inf)">
<g transform="translate(350.90 345.40) scale(0.9430 0.9510)">
<rect x="-3" y="-3" width="106" height="106" fill="#555555"/>
<linearGradient id="bg1" gradientUnits="userSpaceOnUse" x1="22.00" y1="0" x2="100.00" y2="0"><stop offset="0.000" stop-color="#000" stop-opacity="0.000"/><stop offset="0.167" stop-color="#000" stop-opacity="0.320"/><stop offset="0.679" stop-color="#000" stop-opacity="0.320"/><stop offset="1.000" stop-color="#000" stop-opacity="0.220"/></linearGradient><path d="M22.00,28.50 Q61.00,20.50 100.00,11.50 L100.00,20.50 Q61.00,27.50 22.00,33.50 Z" fill="url(#bg1)" filter="url(#rb2)"/>
<linearGradient id="bg2" gradientUnits="userSpaceOnUse" x1="24.00" y1="0" x2="100.00" y2="0"><stop offset="0.000" stop-color="#000" stop-opacity="0.000"/><stop offset="0.184" stop-color="#000" stop-opacity="0.320"/><stop offset="0.737" stop-color="#000" stop-opacity="0.320"/><stop offset="1.000" stop-color="#000" stop-opacity="0.220"/></linearGradient><path d="M24.00,60.50 Q62.00,66.50 100.00,75.50 L100.00,84.50 Q62.00,73.50 24.00,65.50 Z" fill="url(#bg2)" filter="url(#rb2)"/>
<linearGradient id="bg3" gradientUnits="userSpaceOnUse" x1="20.00" y1="0" x2="45.00" y2="0"><stop offset="0.000" stop-color="#000" stop-opacity="0.500"/><stop offset="0.320" stop-color="#000" stop-opacity="0.900"/><stop offset="0.640" stop-color="#000" stop-opacity="0.600"/><stop offset="1.000" stop-color="#000" stop-opacity="0.000"/></linearGradient><path d="M20.00,44.50 Q32.50,44.75 45.00,45.00 L45.00,50.00 Q32.50,49.25 20.00,48.50 Z" fill="url(#bg3)" filter="url(#rb2)"/>
<linearGradient id="bg4" gradientUnits="userSpaceOnUse" x1="15.50" y1="0" x2="100.00" y2="0"><stop offset="0.000" stop-color="#fff" stop-opacity="0.925"/><stop offset="0.065" stop-color="#fff" stop-opacity="0.750"/><stop offset="0.148" stop-color="#fff" stop-opacity="0.400"/><stop offset="0.290" stop-color="#fff" stop-opacity="0.225"/><stop offset="0.586" stop-color="#fff" stop-opacity="0.125"/><stop offset="1.000" stop-color="#fff" stop-opacity="0.060"/></linearGradient><path d="M15.50,34.25 Q57.75,30.62 100.00,22.50 L100.00,29.50 Q57.75,37.38 15.50,40.75 Z" fill="url(#bg4)" filter="url(#rb2)"/>
<linearGradient id="bg5" gradientUnits="userSpaceOnUse" x1="18.50" y1="0" x2="100.00" y2="0"><stop offset="0.000" stop-color="#fff" stop-opacity="0.925"/><stop offset="0.067" stop-color="#fff" stop-opacity="0.750"/><stop offset="0.153" stop-color="#fff" stop-opacity="0.400"/><stop offset="0.301" stop-color="#fff" stop-opacity="0.225"/><stop offset="0.607" stop-color="#fff" stop-opacity="0.125"/><stop offset="1.000" stop-color="#fff" stop-opacity="0.060"/></linearGradient><path d="M18.50,52.25 Q59.25,56.62 100.00,64.50 L100.00,71.50 Q59.25,63.38 18.50,58.75 Z" fill="url(#bg5)" filter="url(#rb2)"/>
<ellipse cx="91.0" cy="35.0" rx="6.4" ry="9.6" fill="url(#gk)" opacity="0.95"/>
<ellipse cx="86.0" cy="36.0" rx="4.8" ry="6.4" fill="url(#gk)" opacity="0.60"/>
<ellipse cx="88.0" cy="8.0" rx="12.8" ry="9.6" fill="url(#gw)" opacity="0.25"/>
<ellipse cx="96.0" cy="50.0" rx="4.8" ry="9.6" fill="url(#gw)" opacity="0.30"/>
<ellipse cx="92.0" cy="60.0" rx="6.4" ry="6.4" fill="url(#gw)" opacity="0.20"/>
<ellipse cx="80.0" cy="88.0" rx="19.2" ry="4.8" fill="url(#gw)" opacity="0.20"/>
<ellipse cx="70.0" cy="92.0" rx="16.0" ry="4.8" fill="url(#gw)" opacity="0.15"/>
<ellipse cx="75.0" cy="46.0" rx="12.8" ry="8.0" fill="url(#gw)" opacity="0.18"/>
<ellipse cx="82.0" cy="55.0" rx="9.6" ry="6.4" fill="url(#gw)" opacity="0.15"/>
<ellipse cx="62.0" cy="8.0" rx="9.6" ry="4.8" fill="url(#gw)" opacity="0.15"/>
<ellipse cx="55.0" cy="4.0" rx="8.0" ry="4.8" fill="url(#gw)" opacity="0.12"/>
<ellipse cx="72.0" cy="18.0" rx="9.6" ry="4.8" fill="url(#gk)" opacity="0.65"/>
<ellipse cx="80.0" cy="14.0" rx="8.0" ry="4.8" fill="url(#gk)" opacity="0.70"/>
<ellipse cx="60.0" cy="78.0" rx="9.6" ry="4.8" fill="url(#gk)" opacity="0.40"/>
<ellipse cx="85.0" cy="78.0" rx="9.6" ry="4.8" fill="url(#gk)" opacity="0.50"/>
</g></g>
<linearGradient id="lg_c1" x1="360.3300" y1="0" x2="366.9310" y2="0" gradientUnits="userSpaceOnUse"><stop offset="0" stop-color="#fff"/><stop offset="1" stop-color="#fff" stop-opacity="0"/></linearGradient>
<mask id="mk_c1"><rect x="350.90" y="345.40" width="94.30" height="95.10" fill="url(#lg_c1)"/></mask>
<g mask="url(#mk_c1)"><g filter="url(#inf)">
<g transform="translate(350.90 345.40) scale(0.9430 0.9510)">
<rect x="-3" y="-3" width="22.0" height="106" fill="#555555"/>
<rect x="0.0" y="0.0" width="1.0" height="100.0" fill="#5f5f5f" opacity="0.80"/>
<rect x="2.2" y="0.0" width="1.0" height="100.0" fill="#5f5f5f" opacity="0.77"/>
<rect x="4.4" y="0.0" width="1.0" height="100.0" fill="#5f5f5f" opacity="0.73"/>
<rect x="6.6" y="0.0" width="1.0" height="100.0" fill="#5f5f5f" opacity="0.70"/>
<rect x="8.8" y="0.0" width="1.0" height="100.0" fill="#5f5f5f" opacity="0.67"/>
<rect x="11.0" y="0.0" width="1.0" height="100.0" fill="#5f5f5f" opacity="0.64"/>
<rect x="13.2" y="0.0" width="1.0" height="100.0" fill="#5f5f5f" opacity="0.60"/>
<rect x="15.4" y="0.0" width="1.0" height="100.0" fill="#5f5f5f" opacity="0.57"/>
</g></g></g>
</g>
<clipPath id="cp_c2"><rect x="450.40" y="345.40" width="94.50" height="95.10"/></clipPath>
<g clip-path="url(#cp_c2)"><g filter="url(#inf)">
<g transform="translate(450.40 345.40) scale(0.9450 0.9510)">
<rect x="-3" y="-3" width="106" height="106" fill="#555555"/>
<linearGradient id="bg6" gradientUnits="userSpaceOnUse" x1="22.00" y1="0" x2="100.00" y2="0"><stop offset="0.000" stop-color="#000" stop-opacity="0.000"/><stop offset="0.167" stop-color="#000" stop-opacity="0.280"/><stop offset="0.679" stop-color="#000" stop-opacity="0.280"/><stop offset="1.000" stop-color="#000" stop-opacity="0.180"/></linearGradient><path d="M22.00,28.50 Q61.00,20.50 100.00,11.50 L100.00,20.50 Q61.00,27.50 22.00,33.50 Z" fill="url(#bg6)" filter="url(#rb2)"/>
<linearGradient id="bg7" gradientUnits="userSpaceOnUse" x1="24.00" y1="0" x2="100.00" y2="0"><stop offset="0.000" stop-color="#000" stop-opacity="0.000"/><stop offset="0.184" stop-color="#000" stop-opacity="0.280"/><stop offset="0.737" stop-color="#000" stop-opacity="0.280"/><stop offset="1.000" stop-color="#000" stop-opacity="0.180"/></linearGradient><path d="M24.00,60.50 Q62.00,66.50 100.00,75.50 L100.00,84.50 Q62.00,73.50 24.00,65.50 Z" fill="url(#bg7)" filter="url(#rb2)"/>
<linearGradient id="bg8" gradientUnits="userSpaceOnUse" x1="20.00" y1="0" x2="45.00" y2="0"><stop offset="0.000" stop-color="#000" stop-opacity="0.250"/><stop offset="0.320" stop-color="#000" stop-opacity="0.650"/><stop offset="0.640" stop-color="#000" stop-opacity="0.350"/><stop offset="1.000" stop-color="#000" stop-opacity="0.000"/></linearGradient><path d="M20.00,44.50 Q32.50,44.75 45.00,45.00 L45.00,50.00 Q32.50,49.25 20.00,48.50 Z" fill="url(#bg8)" filter="url(#rb2)"/>
<linearGradient id="bg9" gradientUnits="userSpaceOnUse" x1="15.50" y1="0" x2="100.00" y2="0"><stop offset="0.000" stop-color="#fff" stop-opacity="0.550"/><stop offset="0.065" stop-color="#fff" stop-opacity="0.375"/><stop offset="0.148" stop-color="#fff" stop-opacity="0.350"/><stop offset="0.290" stop-color="#fff" stop-opacity="0.175"/><stop offset="0.586" stop-color="#fff" stop-opacity="0.075"/><stop offset="1.000" stop-color="#fff" stop-opacity="0.050"/></linearGradient><path d="M15.50,34.25 Q57.75,30.62 100.00,22.50 L100.00,29.50 Q57.75,37.38 15.50,40.75 Z" fill="url(#bg9)" filter="url(#rb2)"/>
<linearGradient id="bg10" gradientUnits="userSpaceOnUse" x1="18.50" y1="0" x2="100.00" y2="0"><stop offset="0.000" stop-color="#fff" stop-opacity="0.550"/><stop offset="0.067" stop-color="#fff" stop-opacity="0.375"/><stop offset="0.153" stop-color="#fff" stop-opacity="0.350"/><stop offset="0.301" stop-color="#fff" stop-opacity="0.175"/><stop offset="0.607" stop-color="#fff" stop-opacity="0.075"/><stop offset="1.000" stop-color="#fff" stop-opacity="0.050"/></linearGradient><path d="M18.50,52.25 Q59.25,56.62 100.00,64.50 L100.00,71.50 Q59.25,63.38 18.50,58.75 Z" fill="url(#bg10)" filter="url(#rb2)"/>
<ellipse cx="75.0" cy="8.0" rx="12.8" ry="6.4" fill="url(#gw)" opacity="0.15"/>
<ellipse cx="60.0" cy="10.0" rx="9.6" ry="4.8" fill="url(#gw)" opacity="0.12"/>
<ellipse cx="70.0" cy="45.0" rx="9.6" ry="6.4" fill="url(#gw)" opacity="0.15"/>
<ellipse cx="72.0" cy="20.0" rx="9.6" ry="4.8" fill="url(#gk)" opacity="0.55"/>
<rect x="90.5" y="0.0" width="3.2" height="100.0" fill="#757575" opacity="1.00"/>
<rect x="96.3" y="0.0" width="3.7" height="100.0" fill="#191919" opacity="1.00"/>
<ellipse cx="88.0" cy="17.0" rx="2.7" ry="5.4" fill="url(#gk)" opacity="0.70"/>
<ellipse cx="88.0" cy="33.0" rx="2.7" ry="5.4" fill="url(#gk)" opacity="0.70"/>
<ellipse cx="88.0" cy="57.0" rx="2.7" ry="5.4" fill="url(#gk)" opacity="0.60"/>
<ellipse cx="88.0" cy="73.0" rx="2.7" ry="5.4" fill="url(#gk)" opacity="0.70"/>
</g></g>
<linearGradient id="lg_c2" x1="459.8500" y1="0" x2="466.4650" y2="0" gradientUnits="userSpaceOnUse"><stop offset="0" stop-color="#fff"/><stop offset="1" stop-color="#fff" stop-opacity="0"/></linearGradient>
<mask id="mk_c2"><rect x="450.40" y="345.40" width="94.50" height="95.10" fill="url(#lg_c2)"/></mask>
<g mask="url(#mk_c2)"><g filter="url(#inf)">
<g transform="translate(450.40 345.40) scale(0.9450 0.9510)">
<rect x="-3" y="-3" width="22.0" height="106" fill="#555555"/>
<rect x="0.0" y="0.0" width="1.0" height="100.0" fill="#5e5e5e" opacity="0.80"/>
<rect x="2.2" y="0.0" width="1.0" height="100.0" fill="#5e5e5e" opacity="0.77"/>
<rect x="4.4" y="0.0" width="1.0" height="100.0" fill="#5e5e5e" opacity="0.73"/>
<rect x="6.6" y="0.0" width="1.0" height="100.0" fill="#5e5e5e" opacity="0.70"/>
<rect x="8.8" y="0.0" width="1.0" height="100.0" fill="#5e5e5e" opacity="0.67"/>
<rect x="11.0" y="0.0" width="1.0" height="100.0" fill="#5e5e5e" opacity="0.64"/>
<rect x="13.2" y="0.0" width="1.0" height="100.0" fill="#5e5e5e" opacity="0.60"/>
<rect x="15.4" y="0.0" width="1.0" height="100.0" fill="#5e5e5e" opacity="0.57"/>
</g></g></g>
</g>
<clipPath id="cp_c3"><rect x="549.20" y="345.40" width="95.60" height="95.10"/></clipPath>
<g clip-path="url(#cp_c3)"><g filter="url(#inf)">
<g transform="translate(549.20 345.40) scale(0.9560 0.9510)">
<rect x="-3" y="-3" width="106" height="106" fill="#555555"/>
</g></g>
</g>
<clipPath id="cp_b4"><rect x="46.40" y="445.30" width="95.10" height="94.60"/></clipPath>
<filter id="nf_b4" x="0" y="0" width="1" height="1" color-interpolation-filters="sRGB"><feTurbulence type="fractalNoise" baseFrequency="0.120 0.120" numOctaves="2" seed="7" result="t"/><feColorMatrix in="t" type="matrix" values="1 0 0 0 0  1 0 0 0 0  1 0 0 0 0  0 0 0 0 1" result="ng"/><feComposite in="SourceGraphic" in2="ng" operator="arithmetic" k1="0" k2="1" k3="0.850" k4="-0.425"/><feColorMatrix type="matrix" values="1 0 0 0 0  0 1 0 0 0  0 0 1 0 0  0 0 0 0 1"/><feComponentTransfer><feFuncR type="table" tableValues="0.001 0.008 0.019 0.042 0.066 0.099 0.129 0.170 0.204 0.245 0.278 0.310 0.348 0.379 0.416 0.447 0.485 0.516 0.553 0.585 0.616 0.652 0.683 0.718 0.747 0.781 0.807 0.837 0.861 0.882 0.906 0.923 0.942 0.955 0.967 0.976 0.983 0.987 0.988 0.987 0.983 0.976 0.968 0.957 0.949 0.948 0.962 0.988"/><feFuncG type="table" tableValues="0.000 0.006 0.015 0.028 0.039 0.046 0.047 0.042 0.038 0.037 0.042 0.051 0.065 0.076 0.090 0.102 0.115 0.126 0.139 0.150 0.162 0.176 0.190 0.207 0.222 0.243 0.263 0.288 0.312 0.337 0.370 0.399 0.436 0.469 0.509 0.544 0.587 0.623 0.660 0.706 0.744 0.790 0.829 0.874 0.910 0.949 0.976 0.998"/><feFuncB type="table" tableValues="0.014 0.047 0.089 0.141 0.187 0.244 0.291 0.341 0.373 0.400 0.414 0.424 0.430 0.433 0.433 0.431 0.427 0.421 0.412 0.402 0.391 0.376 0.361 0.341 0.323 0.300 0.279 0.253 0.231 0.208 0.179 0.155 0.125 0.100 0.069 0.044 0.025 0.028 0.052 0.096 0.138 0.196 0.250 0.324 0.395 0.491 0.572 0.645"/><feFuncA type="identity"/></feComponentTransfer></filter>
<g clip-path="url(#cp_b4)"><g filter="url(#nf_b4)">
<g transform="translate(46.40 445.30) scale(0.9510 0.9460)">
<rect x="-3" y="-3" width="106" height="106" fill="#191919"/>
<ellipse cx="8.5" cy="8.0" rx="6.1" ry="6.1" fill="url(#gw2)" opacity="1.00"/>
<ellipse cx="22.0" cy="13.0" rx="4.9" ry="5.6" fill="url(#gw2)" opacity="0.96"/>
<ellipse cx="35.5" cy="12.5" rx="5.6" ry="6.6" fill="url(#gw2)" opacity="1.00"/>
<ellipse cx="45.0" cy="11.0" rx="7.0" ry="7.0" fill="url(#gw2)" opacity="0.74"/>
<ellipse cx="55.5" cy="7.5" rx="5.6" ry="8.8" fill="url(#gw2)" opacity="1.00"/>
<ellipse cx="72.0" cy="6.0" rx="5.6" ry="4.9" fill="url(#gw2)" opacity="0.93"/>
<ellipse cx="70.0" cy="16.0" rx="5.2" ry="7.0" fill="url(#gw2)" opacity="0.93"/>
<ellipse cx="82.0" cy="15.0" rx="6.6" ry="7.4" fill="url(#gw2)" opacity="1.00"/>
<ellipse cx="90.5" cy="9.0" rx="5.6" ry="6.3" fill="url(#gw2)" opacity="1.00"/>
<ellipse cx="7.0" cy="22.0" rx="8.8" ry="6.3" fill="url(#gw2)" opacity="0.93"/>
<ellipse cx="68.0" cy="25.0" rx="3.9" ry="5.2" fill="url(#gw2)" opacity="0.78"/>
<ellipse cx="90.0" cy="30.0" rx="6.6" ry="8.8" fill="url(#gw2)" opacity="1.00"/>
<ellipse cx="76.0" cy="38.5" rx="8.8" ry="7.0" fill="url(#gw2)" opacity="1.00"/>
<ellipse cx="26.0" cy="36.5" rx="7.0" ry="4.5" fill="url(#gw2)" opacity="0.93"/>
<ellipse cx="52.0" cy="46.0" rx="4.5" ry="6.3" fill="url(#gw2)" opacity="0.93"/>
<ellipse cx="64.0" cy="45.0" rx="4.5" ry="5.6" fill="url(#gw2)" opacity="0.89"/>
<ellipse cx="53.0" cy="36.0" rx="3.5" ry="3.5" fill="url(#gw2)" opacity="0.63"/>
<ellipse cx="92.0" cy="54.0" rx="6.3" ry="6.3" fill="url(#gw2)" opacity="0.96"/>
<ellipse cx="86.0" cy="62.0" rx="7.0" ry="8.8" fill="url(#gw2)" opacity="1.00"/>
<ellipse cx="52.0" cy="59.0" rx="6.3" ry="6.3" fill="url(#gw2)" opacity="1.00"/>
<ellipse cx="26.0" cy="60.0" rx="5.2" ry="4.5" fill="url(#gw2)" opacity="0.81"/>
<ellipse cx="10.0" cy="40.0" rx="7.0" ry="5.2" fill="url(#gw2)" opacity="0.74"/>
<ellipse cx="3.0" cy="56.0" rx="5.2" ry="7.0" fill="url(#gw2)" opacity="0.85"/>
<ellipse cx="5.0" cy="70.0" rx="5.2" ry="5.2" fill="url(#gw2)" opacity="1.00"/>
<ellipse cx="13.0" cy="70.0" rx="5.2" ry="5.2" fill="url(#gw2)" opacity="0.85"/>
<ellipse cx="39.0" cy="75.0" rx="5.6" ry="4.5" fill="url(#gw2)" opacity="1.00"/>
<ellipse cx="39.0" cy="82.0" rx="2.8" ry="10.5" fill="url(#gw2)" opacity="0.78"/>
<ellipse cx="50.0" cy="74.0" rx="5.2" ry="3.5" fill="url(#gw2)" opacity="0.74"/>
<ellipse cx="62.0" cy="86.0" rx="7.0" ry="6.3" fill="url(#gw2)" opacity="1.00"/>
<ellipse cx="87.0" cy="85.5" rx="8.0" ry="7.4" fill="url(#gw2)" opacity="1.00"/>
<ellipse cx="15.0" cy="88.0" rx="5.2" ry="5.2" fill="url(#gw2)" opacity="0.93"/>
<ellipse cx="21.0" cy="80.0" rx="4.4" ry="4.4" fill="url(#gw2)" opacity="0.78"/>
<ellipse cx="48.0" cy="87.0" rx="3.5" ry="3.5" fill="url(#gw2)" opacity="0.78"/>
<ellipse cx="80.0" cy="96.0" rx="5.2" ry="4.4" fill="url(#gw2)" opacity="0.78"/>
<ellipse cx="66.0" cy="72.0" rx="7.0" ry="5.2" fill="url(#gw2)" opacity="0.63"/>
<ellipse cx="10.0" cy="48.0" rx="5.2" ry="3.5" fill="url(#gw2)" opacity="0.63"/>
<ellipse cx="1.0" cy="80.0" rx="3.5" ry="8.8" fill="url(#gw2)" opacity="0.81"/>
<ellipse cx="96.0" cy="32.0" rx="3.5" ry="5.2" fill="url(#gw2)" opacity="0.70"/>
<ellipse cx="30.0" cy="95.0" rx="5.2" ry="5.2" fill="url(#gw2)" opacity="0.63"/>
<ellipse cx="60.0" cy="30.0" rx="5.2" ry="5.2" fill="url(#gw2)" opacity="0.48"/>
<ellipse cx="42.0" cy="25.0" rx="7.0" ry="7.0" fill="url(#gw2)" opacity="0.41"/>
<ellipse cx="20.0" cy="25.0" rx="5.2" ry="5.2" fill="url(#gw2)" opacity="0.44"/>
<ellipse cx="70.0" cy="60.0" rx="7.0" ry="7.0" fill="url(#gw2)" opacity="0.44"/>
<ellipse cx="35.0" cy="50.0" rx="5.2" ry="5.2" fill="url(#gw2)" opacity="0.37"/>
<ellipse cx="80.0" cy="75.0" rx="7.0" ry="5.2" fill="url(#gw2)" opacity="0.48"/>
<ellipse cx="95.0" cy="70.0" rx="5.2" ry="7.0" fill="url(#gw2)" opacity="0.56"/>
<ellipse cx="15.0" cy="30.0" rx="5.2" ry="5.2" fill="url(#gw2)" opacity="0.41"/>
<ellipse cx="60.0" cy="97.0" rx="7.0" ry="5.2" fill="url(#gw2)" opacity="0.56"/>
</g></g>
</g>
<clipPath id="cp_b5"><rect x="146.80" y="445.30" width="94.70" height="94.60"/></clipPath>
<filter id="nf_b5" x="0" y="0" width="1" height="1" color-interpolation-filters="sRGB"><feTurbulence type="fractalNoise" baseFrequency="0.120 0.120" numOctaves="2" seed="11" result="t"/><feColorMatrix in="t" type="matrix" values="1 0 0 0 0  1 0 0 0 0  1 0 0 0 0  0 0 0 0 1" result="ng"/><feComposite in="SourceGraphic" in2="ng" operator="arithmetic" k1="0" k2="1" k3="0.400" k4="-0.200"/><feColorMatrix type="matrix" values="1 0 0 0 0  0 1 0 0 0  0 0 1 0 0  0 0 0 0 1"/><feComponentTransfer><feFuncR type="table" tableValues="0.001 0.008 0.019 0.042 0.066 0.099 0.129 0.170 0.204 0.245 0.278 0.310 0.348 0.379 0.416 0.447 0.485 0.516 0.553 0.585 0.616 0.652 0.683 0.718 0.747 0.781 0.807 0.837 0.861 0.882 0.906 0.923 0.942 0.955 0.967 0.976 0.983 0.987 0.988 0.987 0.983 0.976 0.968 0.957 0.949 0.948 0.962 0.988"/><feFuncG type="table" tableValues="0.000 0.006 0.015 0.028 0.039 0.046 0.047 0.042 0.038 0.037 0.042 0.051 0.065 0.076 0.090 0.102 0.115 0.126 0.139 0.150 0.162 0.176 0.190 0.207 0.222 0.243 0.263 0.288 0.312 0.337 0.370 0.399 0.436 0.469 0.509 0.544 0.587 0.623 0.660 0.706 0.744 0.790 0.829 0.874 0.910 0.949 0.976 0.998"/><feFuncB type="table" tableValues="0.014 0.047 0.089 0.141 0.187 0.244 0.291 0.341 0.373 0.400 0.414 0.424 0.430 0.433 0.433 0.431 0.427 0.421 0.412 0.402 0.391 0.376 0.361 0.341 0.323 0.300 0.279 0.253 0.231 0.208 0.179 0.155 0.125 0.100 0.069 0.044 0.025 0.028 0.052 0.096 0.138 0.196 0.250 0.324 0.395 0.491 0.572 0.645"/><feFuncA type="identity"/></feComponentTransfer></filter>
<g clip-path="url(#cp_b5)"><g filter="url(#nf_b5)">
<g transform="translate(146.80 445.30) scale(0.9470 0.9460)">
<rect x="-3" y="-3" width="106" height="106" fill="#151515"/>
<ellipse cx="9.0" cy="22.5" rx="5.7" ry="5.7" fill="url(#gw)" opacity="0.55"/>
<ellipse cx="55.0" cy="8.5" rx="6.6" ry="6.6" fill="url(#gw)" opacity="0.47"/>
<ellipse cx="35.0" cy="12.0" rx="5.7" ry="5.7" fill="url(#gw)" opacity="0.33"/>
<ellipse cx="84.0" cy="15.5" rx="6.6" ry="6.6" fill="url(#gw)" opacity="0.47"/>
<ellipse cx="90.0" cy="30.0" rx="6.6" ry="6.6" fill="url(#gw)" opacity="0.40"/>
<ellipse cx="9.0" cy="44.0" rx="6.6" ry="6.6" fill="url(#gw)" opacity="0.40"/>
<ellipse cx="8.5" cy="70.5" rx="6.6" ry="6.6" fill="url(#gw)" opacity="0.47"/>
<ellipse cx="17.5" cy="88.0" rx="7.6" ry="7.6" fill="url(#gw)" opacity="0.47"/>
<ellipse cx="59.0" cy="87.0" rx="7.6" ry="7.6" fill="url(#gw)" opacity="0.40"/>
<ellipse cx="87.0" cy="84.5" rx="5.7" ry="5.7" fill="url(#gw)" opacity="0.44"/>
<ellipse cx="93.0" cy="92.0" rx="6.6" ry="6.6" fill="url(#gw)" opacity="0.44"/>
<ellipse cx="92.0" cy="56.0" rx="6.6" ry="6.6" fill="url(#gw)" opacity="0.44"/>
<ellipse cx="76.0" cy="38.0" rx="8.5" ry="8.5" fill="url(#gw)" opacity="0.33"/>
<ellipse cx="26.0" cy="38.0" rx="6.6" ry="6.6" fill="url(#gw)" opacity="0.29"/>
<ellipse cx="45.0" cy="34.0" rx="6.6" ry="6.6" fill="url(#gw)" opacity="0.29"/>
<ellipse cx="59.0" cy="35.0" rx="6.6" ry="6.6" fill="url(#gw)" opacity="0.29"/>
<ellipse cx="64.0" cy="46.0" rx="6.6" ry="6.6" fill="url(#gw)" opacity="0.29"/>
<ellipse cx="28.0" cy="51.0" rx="6.6" ry="6.6" fill="url(#gw)" opacity="0.25"/>
<ellipse cx="52.0" cy="56.0" rx="6.6" ry="6.6" fill="url(#gw)" opacity="0.29"/>
<ellipse cx="84.0" cy="50.0" rx="6.6" ry="6.6" fill="url(#gw)" opacity="0.25"/>
<ellipse cx="56.0" cy="23.0" rx="6.6" ry="6.6" fill="url(#gw)" opacity="0.25"/>
<ellipse cx="90.0" cy="8.0" rx="4.8" ry="4.8" fill="url(#gw)" opacity="0.40"/>
<ellipse cx="34.0" cy="65.0" rx="8.5" ry="8.5" fill="url(#gw)" opacity="0.22"/>
<ellipse cx="85.0" cy="64.0" rx="6.6" ry="6.6" fill="url(#gw)" opacity="0.29"/>
<ellipse cx="5.0" cy="55.0" rx="7.6" ry="11.4" fill="url(#gw)" opacity="0.15"/>
<ellipse cx="20.0" cy="10.0" rx="11.4" ry="9.5" fill="url(#gw)" opacity="0.15"/>
<ellipse cx="70.0" cy="10.0" rx="11.4" ry="9.5" fill="url(#gw)" opacity="0.15"/>
<ellipse cx="40.0" cy="80.0" rx="11.4" ry="9.5" fill="url(#gw)" opacity="0.15"/>
<ellipse cx="75.0" cy="75.0" rx="11.4" ry="9.5" fill="url(#gw)" opacity="0.15"/>
<ellipse cx="15.0" cy="35.0" rx="9.5" ry="9.5" fill="url(#gw)" opacity="0.15"/>
<ellipse cx="65.0" cy="65.0" rx="9.5" ry="9.5" fill="url(#gw)" opacity="0.15"/>
</g></g>
</g>
<clipPath id="cp_b6"><rect x="246.20" y="445.30" width="94.80" height="94.60"/></clipPath>
<g clip-path="url(#cp_b6)"><g filter="url(#inf)">
<g transform="translate(246.20 445.30) scale(0.9480 0.9460)">
<rect x="-3" y="-3" width="106" height="106" fill="#555555"/>
</g></g>
</g>
<clipPath id="cp_c4"><rect x="350.90" y="445.30" width="94.30" height="94.60"/></clipPath>
<filter id="nf_c4" x="0" y="0" width="1" height="1" color-interpolation-filters="sRGB"><feTurbulence type="fractalNoise" baseFrequency="0.090 0.090" numOctaves="2" seed="21" result="t"/><feColorMatrix in="t" type="matrix" values="1 0 0 0 0  1 0 0 0 0  1 0 0 0 0  0 0 0 0 1" result="ng"/><feComposite in="SourceGraphic" in2="ng" operator="arithmetic" k1="0" k2="1" k3="0.350" k4="-0.175"/><feColorMatrix type="matrix" values="1 0 0 0 0  0 1 0 0 0  0 0 1 0 0  0 0 0 0 1"/><feComponentTransfer><feFuncR type="table" tableValues="0.001 0.008 0.019 0.042 0.066 0.099 0.129 0.170 0.204 0.245 0.278 0.310 0.348 0.379 0.416 0.447 0.485 0.516 0.553 0.585 0.616 0.652 0.683 0.718 0.747 0.781 0.807 0.837 0.861 0.882 0.906 0.923 0.942 0.955 0.967 0.976 0.983 0.987 0.988 0.987 0.983 0.976 0.968 0.957 0.949 0.948 0.962 0.988"/><feFuncG type="table" tableValues="0.000 0.006 0.015 0.028 0.039 0.046 0.047 0.042 0.038 0.037 0.042 0.051 0.065 0.076 0.090 0.102 0.115 0.126 0.139 0.150 0.162 0.176 0.190 0.207 0.222 0.243 0.263 0.288 0.312 0.337 0.370 0.399 0.436 0.469 0.509 0.544 0.587 0.623 0.660 0.706 0.744 0.790 0.829 0.874 0.910 0.949 0.976 0.998"/><feFuncB type="table" tableValues="0.014 0.047 0.089 0.141 0.187 0.244 0.291 0.341 0.373 0.400 0.414 0.424 0.430 0.433 0.433 0.431 0.427 0.421 0.412 0.402 0.391 0.376 0.361 0.341 0.323 0.300 0.279 0.253 0.231 0.208 0.179 0.155 0.125 0.100 0.069 0.044 0.025 0.028 0.052 0.096 0.138 0.196 0.250 0.324 0.395 0.491 0.572 0.645"/><feFuncA type="identity"/></feComponentTransfer></filter>
<g clip-path="url(#cp_c4)"><g filter="url(#nf_c4)">
<g transform="translate(350.90 445.30) scale(0.9430 0.9460)">
<rect x="-3" y="-3" width="106" height="106" fill="#595959"/>
<path d="M53,8 Q63,1 76,14" fill="none" stroke="#000" stroke-width="4.0" stroke-linecap="round" opacity="0.62" filter="url(#rb2)"/>
<path d="M60,1 Q78,0 90,18" fill="none" stroke="#fff" stroke-width="4.0" stroke-linecap="round" opacity="0.23" filter="url(#rb2)"/>
<path d="M9,15 Q7,35 12,55" fill="none" stroke="#000" stroke-width="4.0" stroke-linecap="round" opacity="0.52" filter="url(#rb2)"/>
<path d="M48,85 Q62,82 74,73" fill="none" stroke="#fff" stroke-width="4.5" stroke-linecap="round" opacity="0.33" filter="url(#rb2)"/>
<path d="M46,77 Q58,75 66,70" fill="none" stroke="#000" stroke-width="3.5" stroke-linecap="round" opacity="0.57" filter="url(#rb2)"/>
<path d="M88,45 Q92,62 85,80" fill="none" stroke="#fff" stroke-width="3.0" stroke-linecap="round" opacity="0.13" filter="url(#rb2)"/>
<ellipse cx="30.0" cy="44.0" rx="16.8" ry="19.2" fill="url(#gk)" opacity="0.86"/>
<ellipse cx="31.0" cy="52.0" rx="9.6" ry="7.2" fill="url(#gk)" opacity="0.90"/>
<ellipse cx="46.0" cy="16.0" rx="7.2" ry="6.0" fill="url(#gk)" opacity="0.95"/>
<ellipse cx="49.0" cy="31.0" rx="4.8" ry="14.4" fill="url(#gk)" opacity="0.95"/>
<ellipse cx="67.0" cy="42.0" rx="6.0" ry="12.0" fill="url(#gk)" opacity="0.95"/>
<ellipse cx="10.0" cy="60.0" rx="9.6" ry="7.2" fill="url(#gk)" opacity="0.52"/>
<ellipse cx="35.0" cy="88.0" rx="9.6" ry="7.2" fill="url(#gk)" opacity="0.52"/>
<ellipse cx="45.0" cy="65.0" rx="9.6" ry="7.2" fill="url(#gk)" opacity="0.52"/>
<ellipse cx="12.0" cy="35.0" rx="6.0" ry="28.8" fill="url(#gk)" opacity="0.52"/>
<ellipse cx="13.0" cy="6.0" rx="14.0" ry="8.4" fill="url(#gw)" opacity="0.54"/>
<ellipse cx="31.0" cy="8.0" rx="16.8" ry="14.0" fill="url(#gw)" opacity="0.33"/>
<ellipse cx="46.0" cy="6.0" rx="8.4" ry="9.8" fill="url(#gw)" opacity="0.85"/>
<ellipse cx="22.0" cy="21.0" rx="8.4" ry="7.0" fill="url(#gw)" opacity="0.44"/>
<ellipse cx="37.0" cy="28.0" rx="8.4" ry="7.0" fill="url(#gw)" opacity="0.41"/>
<ellipse cx="57.0" cy="21.0" rx="7.0" ry="7.0" fill="url(#gw)" opacity="0.54"/>
<ellipse cx="57.0" cy="33.0" rx="5.6" ry="19.6" fill="url(#gw)" opacity="0.41"/>
<ellipse cx="56.0" cy="44.0" rx="7.0" ry="7.0" fill="url(#gw)" opacity="0.49"/>
<ellipse cx="75.0" cy="38.0" rx="11.2" ry="14.0" fill="url(#gw)" opacity="0.79"/>
<ellipse cx="74.0" cy="57.0" rx="16.8" ry="14.0" fill="url(#gw)" opacity="0.56"/>
<ellipse cx="19.0" cy="79.0" rx="7.0" ry="7.0" fill="url(#gw)" opacity="0.85"/>
<ellipse cx="20.0" cy="55.0" rx="11.2" ry="8.4" fill="url(#gw)" opacity="0.46"/>
<ellipse cx="48.0" cy="52.0" rx="11.2" ry="8.4" fill="url(#gw)" opacity="0.41"/>
<ellipse cx="6.0" cy="70.0" rx="11.2" ry="8.4" fill="url(#gw)" opacity="0.33" transform="rotate(-30.0 6.0 70.0)"/>
<ellipse cx="35.0" cy="77.0" rx="7.0" ry="16.8" fill="url(#gw)" opacity="0.38" transform="rotate(-35.0 35.0 77.0)"/>
<ellipse cx="15.0" cy="95.0" rx="16.8" ry="8.4" fill="url(#gw)" opacity="0.18"/>
<ellipse cx="55.0" cy="66.0" rx="11.2" ry="8.4" fill="url(#gw)" opacity="0.18"/>
<ellipse cx="88.0" cy="30.0" rx="11.2" ry="22.4" fill="url(#gw)" opacity="0.13"/>
<ellipse cx="2.0" cy="35.0" rx="5.6" ry="39.2" fill="url(#gw)" opacity="0.23"/>
<ellipse cx="31.0" cy="8.0" rx="10.0" ry="10.0" fill="none" stroke="#000" stroke-width="3.5" opacity="0.95" filter="url(#rb2)"/>
<ellipse cx="58.0" cy="34.0" rx="9.5" ry="12.0" fill="none" stroke="#000" stroke-width="3.7" opacity="0.95" filter="url(#rb2)"/>
<ellipse cx="75.0" cy="36.0" rx="11.0" ry="11.5" fill="none" stroke="#000" stroke-width="3.7" opacity="0.95" filter="url(#rb2)"/>
<ellipse cx="72.0" cy="59.0" rx="11.0" ry="10.0" fill="none" stroke="#000" stroke-width="3.7" opacity="0.95" filter="url(#rb2)"/>
<ellipse cx="19.0" cy="79.0" rx="5.5" ry="6.0" fill="none" stroke="#000" stroke-width="2.9" opacity="0.95" filter="url(#rb2)"/>
<ellipse cx="46.0" cy="16.0" rx="4.5" ry="3.8" fill="url(#gk)" opacity="0.95"/>
<ellipse cx="19.0" cy="79.0" rx="3.3" ry="3.3" fill="url(#gw)" opacity="0.85"/>
<ellipse cx="75.0" cy="38.0" rx="4.5" ry="6.0" fill="url(#gw)" opacity="0.79"/>
</g></g>
</g>
<clipPath id="cp_c5"><rect x="450.10" y="445.30" width="95.10" height="94.60"/></clipPath>
<g clip-path="url(#cp_c5)"><g filter="url(#inf)">
<g transform="translate(450.10 445.30) scale(0.9510 0.9460)">
<rect x="-3" y="-3" width="106" height="106" fill="#8a8a8a"/>
<ellipse cx="26.0" cy="28.0" rx="23.0" ry="18.4" fill="url(#gw)" opacity="0.38"/>
<ellipse cx="60.0" cy="19.0" rx="16.1" ry="11.5" fill="url(#gw)" opacity="0.53"/>
<ellipse cx="58.0" cy="38.0" rx="6.9" ry="11.5" fill="url(#gw)" opacity="0.67"/>
<ellipse cx="47.0" cy="48.0" rx="11.5" ry="11.5" fill="url(#gw)" opacity="0.24"/>
<ellipse cx="15.0" cy="92.0" rx="20.7" ry="16.1" fill="url(#gw)" opacity="0.53"/>
<ellipse cx="22.0" cy="60.0" rx="13.8" ry="11.5" fill="url(#gw)" opacity="0.13"/>
<ellipse cx="55.0" cy="65.0" rx="18.4" ry="13.8" fill="url(#gw)" opacity="0.13"/>
<ellipse cx="31.0" cy="8.5" rx="8.0" ry="8.0" fill="none" stroke="#000" stroke-width="6.0" opacity="0.48" filter="url(#rb2)"/>
<ellipse cx="77.0" cy="35.0" rx="9.5" ry="10.0" fill="none" stroke="#000" stroke-width="6.5" opacity="0.54" filter="url(#rb2)"/>
<ellipse cx="74.0" cy="59.0" rx="9.0" ry="9.0" fill="none" stroke="#000" stroke-width="6.5" opacity="0.48" filter="url(#rb2)"/>
<ellipse cx="19.0" cy="77.0" rx="6.5" ry="6.5" fill="none" stroke="#000" stroke-width="4.5" opacity="0.51" filter="url(#rb2)"/>
<ellipse cx="45.0" cy="36.0" rx="32.0" ry="31.0" fill="none" stroke="#000" stroke-width="9.0" opacity="0.10" filter="url(#rb2)"/>
<ellipse cx="31.0" cy="7.0" rx="8.1" ry="8.1" fill="url(#gw)" opacity="1.00"/>
<ellipse cx="77.0" cy="35.0" rx="9.0" ry="9.9" fill="url(#gw)" opacity="1.00"/>
<ellipse cx="74.0" cy="59.0" rx="9.0" ry="9.0" fill="url(#gw)" opacity="1.00"/>
<ellipse cx="19.0" cy="76.0" rx="4.0" ry="4.3" fill="url(#gw)" opacity="0.86"/>
<ellipse cx="35.0" cy="45.0" rx="8.1" ry="8.1" fill="url(#gk)" opacity="0.60"/>
<ellipse cx="46.0" cy="20.0" rx="6.3" ry="6.3" fill="url(#gk)" opacity="0.54"/>
<ellipse cx="66.0" cy="32.0" rx="5.4" ry="10.8" fill="url(#gk)" opacity="0.88"/>
<ellipse cx="68.0" cy="37.0" rx="3.6" ry="9.0" fill="url(#gk)" opacity="0.75"/>
</g></g>
</g>
<clipPath id="cp_c6"><rect x="549.20" y="445.30" width="95.60" height="94.60"/></clipPath>
<g clip-path="url(#cp_c6)"><g filter="url(#inf)">
<g transform="translate(549.20 445.30) scale(0.9560 0.9460)">
<rect x="-3" y="-3" width="106" height="106" fill="#555555"/>
</g></g>
</g>
<rect x="248" y="533" width="48" height="5" fill="#fff"/>
<text x="17.3" y="315.5" font-size="16" fill="#1a1a1a" font-family="Liberation Sans, sans-serif">(b)</text>
<text x="345.3" y="315.5" font-size="16" fill="#1a1a1a" font-family="Liberation Sans, sans-serif">(c)</text>
<text x="62.8" y="336.4" font-size="15.5" font-weight="bold" fill="#111" textLength="60.6" lengthAdjust="spacing" font-family="Liberation Sans, sans-serif"><tspan font-weight="normal">Δ</tspan><tspan font-style="italic">n</tspan> = 0.2</text>
<text x="162.5" y="336.4" font-size="15.5" font-weight="bold" fill="#111" textLength="59.9" lengthAdjust="spacing" font-family="Liberation Sans, sans-serif"><tspan font-weight="normal">Δ</tspan><tspan font-style="italic">n</tspan> = 0.1</text>
<text x="267.6" y="336.4" font-size="15.5" font-weight="bold" fill="#111" textLength="48.2" lengthAdjust="spacing" font-family="Liberation Sans, sans-serif"><tspan font-weight="normal">Δ</tspan><tspan font-style="italic">n</tspan> = 0</text>
<text x="365.4" y="336.4" font-size="15.5" font-weight="bold" fill="#111" textLength="61.0" lengthAdjust="spacing" font-family="Liberation Sans, sans-serif"><tspan font-weight="normal">Δ</tspan><tspan font-style="italic">n</tspan> = 0.2</text>
<text x="466.1" y="336.4" font-size="15.5" font-weight="bold" fill="#111" textLength="59.7" lengthAdjust="spacing" font-family="Liberation Sans, sans-serif"><tspan font-weight="normal">Δ</tspan><tspan font-style="italic">n</tspan> = 0.1</text>
<text x="572.5" y="336.4" font-size="15.5" font-weight="bold" fill="#111" textLength="47.5" lengthAdjust="spacing" font-family="Liberation Sans, sans-serif"><tspan font-weight="normal">Δ</tspan><tspan font-style="italic">n</tspan> = 0</text>
<text x="24.2" y="396.3" font-size="17" font-weight="bold" font-style="italic" text-anchor="middle" fill="#111" font-family="Liberation Serif, serif">E<tspan font-size="12" font-style="normal" dy="-6.3">2</tspan></text>
<line x1="12" y1="381.3" x2="12" y2="400.8" stroke="#111" stroke-width="1.2"/>
<line x1="36" y1="381.3" x2="36" y2="400.8" stroke="#111" stroke-width="1.2"/>
<text x="20" y="484.3" font-size="16.5" font-weight="bold" font-style="italic" text-anchor="middle" fill="#111" font-family="Liberation Serif, serif">P<tspan font-size="10.5" dy="1">OUT</tspan></text>
<line x1="2" y1="488.6" x2="38" y2="488.6" stroke="#111" stroke-width="1.2"/>
<text x="19.9" y="505.2" font-size="16.5" font-weight="bold" font-style="italic" text-anchor="middle" fill="#111" font-family="Liberation Serif, serif">P<tspan font-size="10.5" dy="2">IN</tspan></text>
<linearGradient id="cbg" x1="0" y1="0" x2="0" y2="1"><stop offset="0.000" stop-color="#fcffa4"/><stop offset="0.050" stop-color="#f1ef75"/><stop offset="0.100" stop-color="#f6d746"/><stop offset="0.150" stop-color="#fbbe23"/><stop offset="0.200" stop-color="#fca50a"/><stop offset="0.250" stop-color="#f98e09"/><stop offset="0.300" stop-color="#f37819"/><stop offset="0.350" stop-color="#ea632a"/><stop offset="0.400" stop-color="#dd513a"/><stop offset="0.450" stop-color="#cc4248"/><stop offset="0.500" stop-color="#bc3754"/><stop offset="0.550" stop-color="#a82e5f"/><stop offset="0.600" stop-color="#932667"/><stop offset="0.650" stop-color="#7f1e6c"/><stop offset="0.700" stop-color="#6a176e"/><stop offset="0.750" stop-color="#57106e"/><stop offset="0.800" stop-color="#420a68"/><stop offset="0.850" stop-color="#2b0b57"/><stop offset="0.900" stop-color="#160b39"/><stop offset="0.950" stop-color="#07051b"/><stop offset="1.000" stop-color="#000004"/></linearGradient>
<rect x="651.5" y="359.7" width="8.5" height="170.7" fill="url(#cbg)" stroke="#666" stroke-width="0.6"/>
<line x1="660" y1="530.40" x2="663" y2="530.40" stroke="#333" stroke-width="0.8"/>
<text x="666.5" y="534.70" font-size="12" fill="#222" font-family="Liberation Sans, sans-serif">0.0</text>
<line x1="660" y1="501.95" x2="663" y2="501.95" stroke="#333" stroke-width="0.8"/>
<text x="666.5" y="506.25" font-size="12" fill="#222" font-family="Liberation Sans, sans-serif">0.5</text>
<line x1="660" y1="473.50" x2="663" y2="473.50" stroke="#333" stroke-width="0.8"/>
<text x="666.5" y="477.80" font-size="12" fill="#222" font-family="Liberation Sans, sans-serif">1.0</text>
<line x1="660" y1="445.05" x2="663" y2="445.05" stroke="#333" stroke-width="0.8"/>
<text x="666.5" y="449.35" font-size="12" fill="#222" font-family="Liberation Sans, sans-serif">1.5</text>
<line x1="660" y1="416.60" x2="663" y2="416.60" stroke="#333" stroke-width="0.8"/>
<text x="666.5" y="420.90" font-size="12" fill="#222" font-family="Liberation Sans, sans-serif">2.0</text>
<line x1="660" y1="388.15" x2="663" y2="388.15" stroke="#333" stroke-width="0.8"/>
<text x="666.5" y="392.45" font-size="12" fill="#222" font-family="Liberation Sans, sans-serif">2.5</text>
<line x1="660" y1="359.70" x2="663" y2="359.70" stroke="#333" stroke-width="0.8"/>
<text x="666.5" y="364.00" font-size="12" fill="#222" font-family="Liberation Sans, sans-serif">3.0</text>
<path d="M73.90,682.80L73.90,642.40L75.40,642.40L75.40,613.19L76.90,613.19L76.90,599.01L78.40,599.01L78.40,592.29L79.90,592.29L79.90,589.72L81.41,589.72L81.41,594.75L82.91,594.75L82.91,596.02L84.41,596.02L84.41,593.37L85.91,593.37L85.91,600.99L87.41,600.99L87.41,603.97L88.91,603.97L88.91,601.88L90.41,601.88L90.41,608.15L91.91,608.15L91.91,609.09L93.41,609.09L93.41,614.10L94.91,614.10L94.91,615.68L96.42,615.68L96.42,620.65L97.92,620.65L97.92,620.64L99.42,620.64L99.42,622.01L100.92,622.01L100.92,626.09L102.42,626.09L102.42,627.59L103.92,627.59L103.92,630.37L105.42,630.37L105.42,635.24L106.92,635.24L106.92,635.00L108.42,635.00L108.42,637.88L109.92,637.88L109.92,640.12L111.43,640.12L111.43,642.23L112.93,642.23L112.93,640.67L114.43,640.67L114.43,643.65L115.93,643.65L115.93,644.70L117.43,644.70L117.43,646.07L118.93,646.07L118.93,647.99L120.43,647.99L120.43,648.52L121.93,648.52L121.93,650.96L123.43,650.96L123.43,650.96L124.93,650.96L124.93,652.66L126.44,652.66L126.44,652.32L127.94,652.32L127.94,653.29L129.44,653.29L129.44,656.06L130.94,656.06L130.94,657.01L132.44,657.01L132.44,657.87L133.94,657.87L133.94,657.40L135.44,657.40L135.44,659.41L136.94,659.41L136.94,660.04L138.44,660.04L138.44,661.65L139.94,661.65L139.94,662.68L141.45,662.68L141.45,664.25L142.95,664.25L142.95,665.67L144.45,665.67L144.45,666.67L145.95,666.67L145.95,667.99L147.45,667.99L147.45,668.95L148.95,668.95L148.95,670.14L150.45,670.14L150.45,670.49L151.95,670.49L151.95,671.14L153.45,671.14L153.45,671.57L154.95,671.57L154.95,672.18L156.46,672.18L156.46,672.92L157.96,672.92L157.96,672.69L159.46,672.69L159.46,672.87L160.96,672.87L160.96,673.17L162.46,673.17L162.46,673.67L163.96,673.67L163.96,673.77L165.46,673.77L165.46,674.29L166.96,674.29L166.96,674.02L168.46,674.02L168.46,674.40L169.96,674.40L169.96,675.00L171.47,675.00L171.47,675.53L172.97,675.53L172.97,675.47L174.47,675.47L174.47,675.64L175.97,675.64L175.97,676.33L177.47,676.33L177.47,676.16L178.97,676.16L178.97,676.57L180.47,676.57L180.47,676.89L181.97,676.89L181.97,677.03L183.47,677.03L183.47,677.00L184.97,677.00L184.97,677.12L186.47,677.12L186.47,677.65L187.98,677.65L187.98,677.57L189.48,677.57L189.48,677.96L190.98,677.96L190.98,677.86L192.48,677.86L192.48,678.17L193.98,678.17L193.98,678.13L195.48,678.13L195.48,678.26L196.98,678.26L196.98,678.59L198.48,678.59L198.48,678.59L199.98,678.59L199.98,678.98L201.48,678.98L201.48,679.21L202.99,679.21L202.99,679.21L204.49,679.21L204.49,679.50L205.99,679.50L205.99,679.57L207.49,679.57L207.49,679.64L208.99,679.64L208.99,679.71L210.49,679.71L210.49,679.94L211.99,679.94L211.99,680.09L213.49,680.09L213.49,680.03L214.99,680.03L214.99,680.31L216.49,680.31L216.49,680.35L218.00,680.35L218.00,680.53L219.50,680.53L219.50,680.78L221.00,680.78L221.00,680.93L222.50,680.93L222.50,681.09L224.00,681.09L224.00,682.80Z" fill="#ee82ee"/>
<line x1="73.90" y1="682.80" x2="73.90" y2="685.00" stroke="#666" stroke-width="0.9"/>
<text x="73.90" y="694.00" font-size="11" text-anchor="middle" fill="#222" font-family="Liberation Sans, sans-serif">0.0</text>
<line x1="98.92" y1="682.80" x2="98.92" y2="685.00" stroke="#666" stroke-width="0.9"/>
<text x="98.92" y="694.00" font-size="11" text-anchor="middle" fill="#222" font-family="Liberation Sans, sans-serif">0.5</text>
<line x1="123.93" y1="682.80" x2="123.93" y2="685.00" stroke="#666" stroke-width="0.9"/>
<text x="123.93" y="694.00" font-size="11" text-anchor="middle" fill="#222" font-family="Liberation Sans, sans-serif">1.0</text>
<line x1="148.95" y1="682.80" x2="148.95" y2="685.00" stroke="#666" stroke-width="0.9"/>
<text x="148.95" y="694.00" font-size="11" text-anchor="middle" fill="#222" font-family="Liberation Sans, sans-serif">1.5</text>
<line x1="173.97" y1="682.80" x2="173.97" y2="685.00" stroke="#666" stroke-width="0.9"/>
<text x="173.97" y="694.00" font-size="11" text-anchor="middle" fill="#222" font-family="Liberation Sans, sans-serif">2.0</text>
<line x1="198.98" y1="682.80" x2="198.98" y2="685.00" stroke="#666" stroke-width="0.9"/>
<text x="198.98" y="694.00" font-size="11" text-anchor="middle" fill="#222" font-family="Liberation Sans, sans-serif">2.5</text>
<line x1="224.00" y1="682.80" x2="224.00" y2="685.00" stroke="#666" stroke-width="0.9"/>
<text x="224.00" y="694.00" font-size="11" text-anchor="middle" fill="#222" font-family="Liberation Sans, sans-serif">3.0</text>
<line x1="64.10" y1="682.80" x2="66.30" y2="682.80" stroke="#666" stroke-width="0.9"/>
<text x="63.30" y="686.80" font-size="11" text-anchor="end" fill="#222" font-family="Liberation Sans, sans-serif">0.00</text>
<line x1="64.10" y1="655.65" x2="66.30" y2="655.65" stroke="#666" stroke-width="0.9"/>
<text x="63.30" y="659.65" font-size="11" text-anchor="end" fill="#222" font-family="Liberation Sans, sans-serif">0.01</text>
<line x1="64.10" y1="628.50" x2="66.30" y2="628.50" stroke="#666" stroke-width="0.9"/>
<text x="63.30" y="632.50" font-size="11" text-anchor="end" fill="#222" font-family="Liberation Sans, sans-serif">0.02</text>
<line x1="64.10" y1="601.35" x2="66.30" y2="601.35" stroke="#666" stroke-width="0.9"/>
<text x="63.30" y="605.35" font-size="11" text-anchor="end" fill="#222" font-family="Liberation Sans, sans-serif">0.03</text>
<line x1="64.10" y1="574.20" x2="66.30" y2="574.20" stroke="#666" stroke-width="0.9"/>
<text x="63.30" y="578.20" font-size="11" text-anchor="end" fill="#222" font-family="Liberation Sans, sans-serif">0.04</text>
<rect x="66.30" y="574.20" width="164.70" height="108.60" fill="none" stroke="#9a9a9a" stroke-width="1.3"/>
<text transform="translate(37.50 628.50) rotate(-90)" font-size="10.5" text-anchor="middle" fill="#222" font-family="Liberation Sans, sans-serif">Frequency</text>
<text x="150.00" y="706.00" font-size="13.5" text-anchor="middle" fill="#222" font-family="Liberation Sans, sans-serif">P<tspan font-size="9.5" dy="3">out</tspan><tspan dy="-3">/P</tspan><tspan font-size="9.5" dy="3">in</tspan></text>
<text x="145.10" y="590.70" font-size="14.5" fill="#1a1a1a" textLength="83" lengthAdjust="spacingAndGlyphs" font-family="Liberation Sans, sans-serif"><tspan font-style="italic">RMS</tspan> = 1.153</text>
<text x="145.10" y="609.60" font-size="14.5" fill="#1a1a1a" textLength="62" lengthAdjust="spacingAndGlyphs" font-family="Liberation Sans, sans-serif"><tspan font-family="Liberation Serif, serif" font-style="italic" font-size="16">σ</tspan> = 0.828</text>
<path d="M284.50,681.50L284.50,681.50L285.49,681.50L285.49,681.50L286.48,681.50L286.48,652.88L287.47,652.88L287.47,637.27L288.47,637.27L288.47,628.69L289.46,628.69L289.46,619.72L290.45,619.72L290.45,604.61L291.44,604.61L291.44,591.15L292.43,591.15L292.43,586.89L293.42,586.89L293.42,579.72L294.41,579.72L294.41,578.21L295.40,578.21L295.40,581.39L296.40,581.39L296.40,582.39L297.39,582.39L297.39,589.34L298.38,589.34L298.38,585.38L299.37,585.38L299.37,584.74L300.36,584.74L300.36,583.64L301.35,583.64L301.35,586.73L302.34,586.73L302.34,599.34L303.34,599.34L303.34,604.43L304.33,604.43L304.33,607.98L305.32,607.98L305.32,609.14L306.31,609.14L306.31,614.01L307.30,614.01L307.30,620.50L308.29,620.50L308.29,620.90L309.28,620.90L309.28,624.53L310.27,624.53L310.27,624.17L311.27,624.17L311.27,629.41L312.26,629.41L312.26,634.12L313.25,634.12L313.25,636.10L314.24,636.10L314.24,641.96L315.23,641.96L315.23,646.04L316.22,646.04L316.22,648.80L317.21,648.80L317.21,653.55L318.21,653.55L318.21,658.88L319.20,658.88L319.20,661.21L320.19,661.21L320.19,664.46L321.18,664.46L321.18,667.09L322.17,667.09L322.17,669.70L323.16,669.70L323.16,669.93L324.15,669.93L324.15,670.85L325.14,670.85L325.14,671.44L326.14,671.44L326.14,672.47L327.13,672.47L327.13,673.81L328.12,673.81L328.12,674.80L329.11,674.80L329.11,675.89L330.10,675.89L330.10,676.61L331.09,676.61L331.09,677.04L332.08,677.04L332.08,677.38L333.08,677.38L333.08,677.72L334.07,677.72L334.07,678.26L335.06,678.26L335.06,678.54L336.05,678.54L336.05,678.80L337.04,678.80L337.04,679.01L338.03,679.01L338.03,679.14L339.02,679.14L339.02,679.40L340.01,679.40L340.01,679.62L341.01,679.62L341.01,679.81L342.00,679.81L342.00,679.99L342.99,679.99L342.99,680.25L343.98,680.25L343.98,680.39L344.97,680.39L344.97,680.58L345.96,680.58L345.96,680.60L346.95,680.60L346.95,680.65L347.95,680.65L347.95,680.75L348.94,680.75L348.94,680.77L349.93,680.77L349.93,680.85L350.92,680.85L350.92,680.90L351.91,680.90L351.91,680.98L352.90,680.98L352.90,681.03L353.89,681.03L353.89,681.08L354.88,681.08L354.88,681.12L355.88,681.12L355.88,681.20L356.87,681.20L356.87,681.25L357.86,681.25L357.86,681.30L358.85,681.30L358.85,681.33L359.84,681.33L359.84,681.34L360.83,681.34L360.83,681.34L361.82,681.34L361.82,681.34L362.82,681.34L362.82,681.34L363.81,681.34L363.81,681.35L364.80,681.35L364.80,681.35L365.79,681.35L365.79,681.35L366.78,681.35L366.78,681.35L367.77,681.35L367.77,681.36L368.76,681.36L368.76,681.36L369.75,681.36L369.75,681.37L370.75,681.37L370.75,681.37L371.74,681.37L371.74,681.37L372.73,681.37L372.73,681.37L373.72,681.37L373.72,681.37L374.71,681.37L374.71,681.37L375.70,681.37L375.70,681.37L376.69,681.37L376.69,681.38L377.69,681.38L377.69,681.38L378.68,681.38L378.68,681.38L379.67,681.38L379.67,681.39L380.66,681.39L380.66,681.39L381.65,681.39L381.65,681.39L382.64,681.39L382.64,681.39L383.63,681.39L383.63,681.39L384.62,681.39L384.62,681.40L385.62,681.40L385.62,681.39L386.61,681.39L386.61,681.40L387.60,681.40L387.60,681.40L388.59,681.40L388.59,681.41L389.58,681.41L389.58,681.41L390.57,681.41L390.57,681.41L391.56,681.41L391.56,681.41L392.56,681.41L392.56,681.41L393.55,681.41L393.55,681.42L394.54,681.42L394.54,681.41L395.53,681.41L395.53,681.42L396.52,681.42L396.52,681.42L397.51,681.42L397.51,681.42L398.50,681.42L398.50,681.43L399.49,681.43L399.49,681.43L400.49,681.43L400.49,681.43L401.48,681.43L401.48,681.43L402.47,681.43L402.47,681.43L403.46,681.43L403.46,681.44L404.45,681.44L404.45,681.44L405.44,681.44L405.44,681.44L406.43,681.44L406.43,681.44L407.43,681.44L407.43,681.45L408.42,681.45L408.42,681.45L409.41,681.45L409.41,681.45L410.40,681.45L410.40,681.45L411.39,681.45L411.39,681.45L412.38,681.45L412.38,681.46L413.37,681.46L413.37,681.46L414.36,681.46L414.36,681.46L415.36,681.46L415.36,681.46L416.35,681.46L416.35,681.46L417.34,681.46L417.34,681.47L418.33,681.47L418.33,681.47L419.32,681.47L419.32,681.47L420.31,681.47L420.31,681.47L421.30,681.47L421.30,681.47L422.30,681.47L422.30,681.48L423.29,681.48L423.29,681.48L424.28,681.48L424.28,681.48L425.27,681.48L425.27,681.48L426.26,681.48L426.26,681.49L427.25,681.49L427.25,681.49L428.24,681.49L428.24,681.49L429.23,681.49L429.23,681.49L430.23,681.49L430.23,681.49L431.22,681.49L431.22,681.50L432.21,681.50L432.21,681.50L433.20,681.50L433.20,681.50Z" fill="#ee82ee"/>
<line x1="284.50" y1="681.50" x2="284.50" y2="683.70" stroke="#666" stroke-width="0.9"/>
<text x="284.50" y="692.70" font-size="11" text-anchor="middle" fill="#222" font-family="Liberation Sans, sans-serif">0.0</text>
<line x1="309.28" y1="681.50" x2="309.28" y2="683.70" stroke="#666" stroke-width="0.9"/>
<text x="309.28" y="692.70" font-size="11" text-anchor="middle" fill="#222" font-family="Liberation Sans, sans-serif">0.5</text>
<line x1="334.07" y1="681.50" x2="334.07" y2="683.70" stroke="#666" stroke-width="0.9"/>
<text x="334.07" y="692.70" font-size="11" text-anchor="middle" fill="#222" font-family="Liberation Sans, sans-serif">1.0</text>
<line x1="358.85" y1="681.50" x2="358.85" y2="683.70" stroke="#666" stroke-width="0.9"/>
<text x="358.85" y="692.70" font-size="11" text-anchor="middle" fill="#222" font-family="Liberation Sans, sans-serif">1.5</text>
<line x1="383.63" y1="681.50" x2="383.63" y2="683.70" stroke="#666" stroke-width="0.9"/>
<text x="383.63" y="692.70" font-size="11" text-anchor="middle" fill="#222" font-family="Liberation Sans, sans-serif">2.0</text>
<line x1="408.42" y1="681.50" x2="408.42" y2="683.70" stroke="#666" stroke-width="0.9"/>
<text x="408.42" y="692.70" font-size="11" text-anchor="middle" fill="#222" font-family="Liberation Sans, sans-serif">2.5</text>
<line x1="433.20" y1="681.50" x2="433.20" y2="683.70" stroke="#666" stroke-width="0.9"/>
<text x="433.20" y="692.70" font-size="11" text-anchor="middle" fill="#222" font-family="Liberation Sans, sans-serif">3.0</text>
<line x1="275.30" y1="681.50" x2="277.50" y2="681.50" stroke="#666" stroke-width="0.9"/>
<text x="274.50" y="685.50" font-size="11" text-anchor="end" fill="#222" font-family="Liberation Sans, sans-serif">0.00</text>
<line x1="275.30" y1="648.97" x2="277.50" y2="648.97" stroke="#666" stroke-width="0.9"/>
<text x="274.50" y="652.97" font-size="11" text-anchor="end" fill="#222" font-family="Liberation Sans, sans-serif">0.02</text>
<line x1="275.30" y1="616.43" x2="277.50" y2="616.43" stroke="#666" stroke-width="0.9"/>
<text x="274.50" y="620.43" font-size="11" text-anchor="end" fill="#222" font-family="Liberation Sans, sans-serif">0.04</text>
<line x1="275.30" y1="583.90" x2="277.50" y2="583.90" stroke="#666" stroke-width="0.9"/>
<text x="274.50" y="587.90" font-size="11" text-anchor="end" fill="#222" font-family="Liberation Sans, sans-serif">0.06</text>
<rect x="277.50" y="573.90" width="163.00" height="107.60" fill="none" stroke="#9a9a9a" stroke-width="1.3"/>
<text transform="translate(248.50 627.70) rotate(-90)" font-size="10.5" text-anchor="middle" fill="#222" font-family="Liberation Sans, sans-serif">Frequency</text>
<text x="360.00" y="706.00" font-size="13.5" text-anchor="middle" fill="#222" font-family="Liberation Sans, sans-serif">P<tspan font-size="9.5" dy="3">out</tspan><tspan dy="-3">/P</tspan><tspan font-size="9.5" dy="3">in</tspan></text>
<text x="353.30" y="590.70" font-size="14.5" fill="#1a1a1a" textLength="83" lengthAdjust="spacingAndGlyphs" font-family="Liberation Sans, sans-serif"><tspan font-style="italic">RMS</tspan> = 0.439</text>
<text x="353.30" y="609.60" font-size="14.5" fill="#1a1a1a" textLength="62" lengthAdjust="spacingAndGlyphs" font-family="Liberation Sans, sans-serif"><tspan font-family="Liberation Serif, serif" font-style="italic" font-size="16">σ</tspan> = 0.214</text>
<path d="M494.80,681.50H496.21V676.75H494.80ZM496.21,681.50H497.63V647.28H496.21ZM497.63,681.50H499.40V578.10H497.63ZM499.40,681.50H500.82V598.08H499.40ZM500.82,681.50H502.23V661.02H500.82ZM502.23,681.50H503.65V679.75H502.23Z" fill="#ee82ee"/>
<line x1="499.40" y1="681.50" x2="499.40" y2="683.70" stroke="#666" stroke-width="0.9"/>
<text x="499.40" y="692.70" font-size="11" text-anchor="middle" fill="#222" font-family="Liberation Sans, sans-serif">1.0</text>
<line x1="534.80" y1="681.50" x2="534.80" y2="683.70" stroke="#666" stroke-width="0.9"/>
<text x="534.80" y="692.70" font-size="11" text-anchor="middle" fill="#222" font-family="Liberation Sans, sans-serif">1.5</text>
<line x1="570.20" y1="681.50" x2="570.20" y2="683.70" stroke="#666" stroke-width="0.9"/>
<text x="570.20" y="692.70" font-size="11" text-anchor="middle" fill="#222" font-family="Liberation Sans, sans-serif">2.0</text>
<line x1="605.60" y1="681.50" x2="605.60" y2="683.70" stroke="#666" stroke-width="0.9"/>
<text x="605.60" y="692.70" font-size="11" text-anchor="middle" fill="#222" font-family="Liberation Sans, sans-serif">2.5</text>
<line x1="641.00" y1="681.50" x2="641.00" y2="683.70" stroke="#666" stroke-width="0.9"/>
<text x="641.00" y="692.70" font-size="11" text-anchor="middle" fill="#222" font-family="Liberation Sans, sans-serif">3.0</text>
<line x1="482.30" y1="681.50" x2="484.50" y2="681.50" stroke="#666" stroke-width="0.9"/>
<text x="481.50" y="685.50" font-size="11" text-anchor="end" fill="#222" font-family="Liberation Sans, sans-serif">0.0</text>
<line x1="482.30" y1="656.52" x2="484.50" y2="656.52" stroke="#666" stroke-width="0.9"/>
<text x="481.50" y="660.52" font-size="11" text-anchor="end" fill="#222" font-family="Liberation Sans, sans-serif">0.1</text>
<line x1="482.30" y1="631.55" x2="484.50" y2="631.55" stroke="#666" stroke-width="0.9"/>
<text x="481.50" y="635.55" font-size="11" text-anchor="end" fill="#222" font-family="Liberation Sans, sans-serif">0.2</text>
<line x1="482.30" y1="606.58" x2="484.50" y2="606.58" stroke="#666" stroke-width="0.9"/>
<text x="481.50" y="610.58" font-size="11" text-anchor="end" fill="#222" font-family="Liberation Sans, sans-serif">0.3</text>
<line x1="482.30" y1="581.60" x2="484.50" y2="581.60" stroke="#666" stroke-width="0.9"/>
<text x="481.50" y="585.60" font-size="11" text-anchor="end" fill="#222" font-family="Liberation Sans, sans-serif">0.4</text>
<rect x="484.50" y="572.50" width="165.30" height="109.00" fill="none" stroke="#9a9a9a" stroke-width="1.3"/>
<text transform="translate(460.00 627.00) rotate(-90)" font-size="10.5" text-anchor="middle" fill="#222" font-family="Liberation Sans, sans-serif">Frequency</text>
<text x="567.00" y="706.00" font-size="13.5" text-anchor="middle" fill="#222" font-family="Liberation Sans, sans-serif">P<tspan font-size="9.5" dy="3">out</tspan><tspan dy="-3">/P</tspan><tspan font-size="9.5" dy="3">in</tspan></text>
<text x="558.20" y="590.70" font-size="14.5" fill="#1a1a1a" textLength="83" lengthAdjust="spacingAndGlyphs" font-family="Liberation Sans, sans-serif"><tspan font-style="italic">RMS</tspan> = 1.003</text>
<text x="558.20" y="609.60" font-size="14.5" fill="#1a1a1a" textLength="62" lengthAdjust="spacingAndGlyphs" font-family="Liberation Sans, sans-serif"><tspan font-family="Liberation Serif, serif" font-style="italic" font-size="16">σ</tspan> = 0.009</text>
<path d="M77.70,836.00L77.70,835.75L78.91,835.75L78.91,835.26L80.12,835.26L80.12,834.69L81.33,834.69L81.33,833.85L82.54,833.85L82.54,832.88L83.75,832.88L83.75,832.02L84.96,832.02L84.96,831.13L86.17,831.13L86.17,829.21L87.38,829.21L87.38,827.66L88.59,827.66L88.59,825.68L89.80,825.68L89.80,824.17L91.01,824.17L91.01,823.00L92.22,823.00L92.22,821.80L93.43,821.80L93.43,820.50L94.64,820.50L94.64,820.80L95.85,820.80L95.85,820.43L97.06,820.43L97.06,819.60L98.27,819.60L98.27,817.39L99.48,817.39L99.48,815.94L100.69,815.94L100.69,810.81L101.90,810.81L101.90,804.22L103.11,804.22L103.11,803.63L104.32,803.63L104.32,799.54L105.53,799.54L105.53,797.98L106.74,797.98L106.74,795.86L107.95,795.86L107.95,796.26L109.16,796.26L109.16,796.12L110.37,796.12L110.37,794.69L111.58,794.69L111.58,795.81L112.79,795.81L112.79,794.39L114.00,794.39L114.00,792.19L115.21,792.19L115.21,790.67L116.42,790.67L116.42,787.82L117.63,787.82L117.63,785.71L118.84,785.71L118.84,782.21L120.05,782.21L120.05,772.59L121.26,772.59L121.26,761.26L122.47,761.26L122.47,755.37L123.68,755.37L123.68,746.97L124.89,746.97L124.89,735.69L126.10,735.69L126.10,738.49L127.31,738.49L127.31,745.47L128.52,745.47L128.52,750.90L129.73,750.90L129.73,760.29L130.94,760.29L130.94,769.63L132.15,769.63L132.15,774.36L133.36,774.36L133.36,782.20L134.57,782.20L134.57,790.53L135.78,790.53L135.78,795.78L136.99,795.78L136.99,797.17L138.20,797.17L138.20,795.90L139.41,795.90L139.41,798.47L140.62,798.47L140.62,798.34L141.83,798.34L141.83,798.15L143.04,798.15L143.04,802.66L144.25,802.66L144.25,805.49L145.46,805.49L145.46,809.67L146.67,809.67L146.67,812.13L147.88,812.13L147.88,815.44L149.09,815.44L149.09,818.48L150.30,818.48L150.30,821.03L151.51,821.03L151.51,823.89L152.72,823.89L152.72,825.07L153.93,825.07L153.93,826.58L155.14,826.58L155.14,827.46L156.35,827.46L156.35,827.82L157.56,827.82L157.56,827.94L158.77,827.94L158.77,828.20L159.98,828.20L159.98,828.82L161.19,828.82L161.19,829.24L162.40,829.24L162.40,829.98L163.61,829.98L163.61,830.25L164.82,830.25L164.82,830.91L166.03,830.91L166.03,831.48L167.24,831.48L167.24,832.19L168.45,832.19L168.45,832.96L169.66,832.96L169.66,833.37L170.87,833.37L170.87,833.74L172.08,833.74L172.08,834.23L173.29,834.23L173.29,834.59L174.50,834.59L174.50,834.85L175.71,834.85L175.71,834.91L176.92,834.91L176.92,834.97L178.13,834.97L178.13,834.98L179.34,834.98L179.34,835.08L180.55,835.08L180.55,835.13L181.76,835.13L181.76,835.18L182.97,835.18L182.97,835.22L184.18,835.22L184.18,835.30L185.39,835.30L185.39,835.34L186.60,835.34L186.60,835.39L187.81,835.39L187.81,835.44L189.02,835.44L189.02,835.49L190.23,835.49L190.23,835.55L191.44,835.55L191.44,835.62L192.65,835.62L192.65,835.67L193.86,835.67L193.86,835.72L195.07,835.72L195.07,835.77L196.28,835.77L196.28,835.80L197.49,835.80L197.49,835.82L198.70,835.82L198.70,835.83L199.91,835.83L199.91,835.83L201.12,835.83L201.12,835.84L202.33,835.84L202.33,835.85L203.54,835.85L203.54,835.86L204.75,835.86L204.75,835.87L205.96,835.87L205.96,835.88L207.17,835.88L207.17,835.89L208.38,835.89L208.38,835.90L209.59,835.90L209.59,835.90L210.80,835.90L210.80,835.91L212.01,835.91L212.01,835.92L213.22,835.92L213.22,835.93L214.43,835.93L214.43,835.94L215.64,835.94L215.64,835.95L216.85,835.95L216.85,835.96L218.06,835.96L218.06,835.97L219.27,835.97L219.27,835.98L220.48,835.98L220.48,835.99L221.69,835.99L221.69,836.00L222.90,836.00L222.90,836.00Z" fill="#ee82ee"/>
<line x1="77.70" y1="836.00" x2="77.70" y2="838.20" stroke="#666" stroke-width="0.9"/>
<text x="77.70" y="847.20" font-size="11" text-anchor="middle" fill="#222" font-family="Liberation Sans, sans-serif">0.0</text>
<line x1="101.90" y1="836.00" x2="101.90" y2="838.20" stroke="#666" stroke-width="0.9"/>
<text x="101.90" y="847.20" font-size="11" text-anchor="middle" fill="#222" font-family="Liberation Sans, sans-serif">0.5</text>
<line x1="126.10" y1="836.00" x2="126.10" y2="838.20" stroke="#666" stroke-width="0.9"/>
<text x="126.10" y="847.20" font-size="11" text-anchor="middle" fill="#222" font-family="Liberation Sans, sans-serif">1.0</text>
<line x1="150.30" y1="836.00" x2="150.30" y2="838.20" stroke="#666" stroke-width="0.9"/>
<text x="150.30" y="847.20" font-size="11" text-anchor="middle" fill="#222" font-family="Liberation Sans, sans-serif">1.5</text>
<line x1="174.50" y1="836.00" x2="174.50" y2="838.20" stroke="#666" stroke-width="0.9"/>
<text x="174.50" y="847.20" font-size="11" text-anchor="middle" fill="#222" font-family="Liberation Sans, sans-serif">2.0</text>
<line x1="198.70" y1="836.00" x2="198.70" y2="838.20" stroke="#666" stroke-width="0.9"/>
<text x="198.70" y="847.20" font-size="11" text-anchor="middle" fill="#222" font-family="Liberation Sans, sans-serif">2.5</text>
<line x1="222.90" y1="836.00" x2="222.90" y2="838.20" stroke="#666" stroke-width="0.9"/>
<text x="222.90" y="847.20" font-size="11" text-anchor="middle" fill="#222" font-family="Liberation Sans, sans-serif">3.0</text>
<line x1="68.50" y1="836.00" x2="70.70" y2="836.00" stroke="#666" stroke-width="0.9"/>
<text x="67.70" y="840.00" font-size="11" text-anchor="end" fill="#222" font-family="Liberation Sans, sans-serif">0.00</text>
<line x1="68.50" y1="815.88" x2="70.70" y2="815.88" stroke="#666" stroke-width="0.9"/>
<text x="67.70" y="819.88" font-size="11" text-anchor="end" fill="#222" font-family="Liberation Sans, sans-serif">0.01</text>
<line x1="68.50" y1="795.76" x2="70.70" y2="795.76" stroke="#666" stroke-width="0.9"/>
<text x="67.70" y="799.76" font-size="11" text-anchor="end" fill="#222" font-family="Liberation Sans, sans-serif">0.02</text>
<line x1="68.50" y1="775.64" x2="70.70" y2="775.64" stroke="#666" stroke-width="0.9"/>
<text x="67.70" y="779.64" font-size="11" text-anchor="end" fill="#222" font-family="Liberation Sans, sans-serif">0.03</text>
<line x1="68.50" y1="755.52" x2="70.70" y2="755.52" stroke="#666" stroke-width="0.9"/>
<text x="67.70" y="759.52" font-size="11" text-anchor="end" fill="#222" font-family="Liberation Sans, sans-serif">0.04</text>
<line x1="68.50" y1="735.40" x2="70.70" y2="735.40" stroke="#666" stroke-width="0.9"/>
<text x="67.70" y="739.40" font-size="11" text-anchor="end" fill="#222" font-family="Liberation Sans, sans-serif">0.05</text>
<rect x="70.70" y="731.40" width="159.70" height="104.60" fill="none" stroke="#9a9a9a" stroke-width="1.3"/>
<text transform="translate(41.50 783.70) rotate(-90)" font-size="10.5" text-anchor="middle" fill="#222" font-family="Liberation Sans, sans-serif">Frequency</text>
<text x="150.00" y="860.00" font-size="13.5" text-anchor="middle" fill="#222" font-family="Liberation Sans, sans-serif">P<tspan font-size="9.5" dy="3">out</tspan><tspan dy="-3">/P</tspan><tspan font-size="9.5" dy="3">in</tspan></text>
<text x="145.30" y="747.10" font-size="14.5" fill="#1a1a1a" textLength="83" lengthAdjust="spacingAndGlyphs" font-family="Liberation Sans, sans-serif"><tspan font-style="italic">RMS</tspan> = 1.046</text>
<text x="145.30" y="766.50" font-size="14.5" fill="#1a1a1a" textLength="62" lengthAdjust="spacingAndGlyphs" font-family="Liberation Sans, sans-serif"><tspan font-family="Liberation Serif, serif" font-style="italic" font-size="16">σ</tspan> = 0.362</text>
<path d="M277.24,837.00L277.24,836.97L277.95,836.97L277.95,836.92L278.66,836.92L278.66,836.87L279.36,836.87L279.36,836.82L280.07,836.82L280.07,836.78L280.77,836.78L280.77,836.72L281.48,836.72L281.48,836.66L282.18,836.66L282.18,836.62L282.89,836.62L282.89,836.56L283.59,836.56L283.59,836.51L284.30,836.51L284.30,836.49L285.01,836.49L285.01,836.48L285.71,836.48L285.71,836.46L286.42,836.46L286.42,836.46L287.12,836.46L287.12,836.44L287.83,836.44L287.83,836.45L288.53,836.45L288.53,836.44L289.24,836.44L289.24,836.43L289.94,836.43L289.94,836.41L290.65,836.41L290.65,836.39L291.36,836.39L291.36,836.39L292.06,836.39L292.06,836.37L292.77,836.37L292.77,836.38L293.47,836.38L293.47,836.36L294.18,836.36L294.18,836.37L294.88,836.37L294.88,836.36L295.59,836.36L295.59,836.33L296.30,836.33L296.30,836.32L297.00,836.32L297.00,836.32L297.71,836.32L297.71,836.33L298.41,836.33L298.41,836.31L299.12,836.31L299.12,836.31L299.82,836.31L299.82,836.30L300.53,836.30L300.53,836.26L301.23,836.26L301.23,836.28L301.94,836.28L301.94,836.24L302.65,836.24L302.65,836.23L303.35,836.23L303.35,836.26L304.06,836.26L304.06,836.24L304.76,836.24L304.76,836.11L305.47,836.11L305.47,835.80L306.17,835.80L306.17,835.42L306.88,835.42L306.88,835.02L307.58,835.02L307.58,834.84L308.29,834.84L308.29,834.50L309.00,834.50L309.00,834.30L309.70,834.30L309.70,833.94L310.41,833.94L310.41,833.68L311.11,833.68L311.11,833.64L311.82,833.64L311.82,833.51L312.52,833.51L312.52,833.31L313.23,833.31L313.23,833.03L313.94,833.03L313.94,833.12L314.64,833.12L314.64,833.11L315.35,833.11L315.35,833.01L316.05,833.01L316.05,832.91L316.76,832.91L316.76,833.03L317.46,833.03L317.46,833.03L318.17,833.03L318.17,832.58L318.87,832.58L318.87,832.34L319.58,832.34L319.58,831.80L320.29,831.80L320.29,831.54L320.99,831.54L320.99,831.08L321.70,831.08L321.70,830.75L322.40,830.75L322.40,830.88L323.11,830.88L323.11,830.48L323.81,830.48L323.81,830.25L324.52,830.25L324.52,830.24L325.22,830.24L325.22,830.00L325.93,830.00L325.93,829.56L326.64,829.56L326.64,829.44L327.34,829.44L327.34,829.71L328.05,829.71L328.05,828.49L328.75,828.49L328.75,826.21L329.46,826.21L329.46,825.07L330.16,825.07L330.16,824.15L330.87,824.15L330.87,823.96L331.58,823.96L331.58,822.70L332.28,822.70L332.28,821.34L332.99,821.34L332.99,820.33L333.69,820.33L333.69,820.00L334.40,820.00L334.40,821.48L335.10,821.48L335.10,821.88L335.81,821.88L335.81,821.88L336.51,821.88L336.51,822.60L337.22,822.60L337.22,823.17L337.93,823.17L337.93,823.68L338.63,823.68L338.63,823.47L339.34,823.47L339.34,824.02L340.04,824.02L340.04,824.66L340.75,824.66L340.75,824.29L341.45,824.29L341.45,824.86L342.16,824.86L342.16,824.87L342.86,824.87L342.86,825.10L343.57,825.10L343.57,824.99L344.28,824.99L344.28,825.14L344.98,825.14L344.98,825.37L345.69,825.37L345.69,824.53L346.39,824.53L346.39,824.39L347.10,824.39L347.10,823.30L347.80,823.30L347.80,778.84L348.51,778.84L348.51,776.12L349.22,776.12L349.22,776.03L349.92,776.03L349.92,735.30L350.63,735.30L350.63,734.01L351.33,734.01L351.33,804.41L352.04,804.41L352.04,803.44L352.74,803.44L352.74,794.70L353.45,794.70L353.45,795.20L354.15,795.20L354.15,796.64L354.86,796.64L354.86,797.96L355.57,797.96L355.57,821.67L356.27,821.67L356.27,825.32L356.98,825.32L356.98,826.29L357.68,826.29L357.68,826.74L358.39,826.74L358.39,827.66L359.09,827.66L359.09,827.93L359.80,827.93L359.80,828.87L360.50,828.87L360.50,829.56L361.21,829.56L361.21,829.61L361.92,829.61L361.92,830.41L362.62,830.41L362.62,830.58L363.33,830.58L363.33,831.04L364.03,831.04L364.03,831.64L364.74,831.64L364.74,832.28L365.44,832.28L365.44,832.71L366.15,832.71L366.15,833.13L366.86,833.13L366.86,833.36L367.56,833.36L367.56,833.54L368.27,833.54L368.27,833.70L368.97,833.70L368.97,834.05L369.68,834.05L369.68,834.32L370.38,834.32L370.38,834.48L371.09,834.48L371.09,834.77L371.79,834.77L371.79,835.00L372.50,835.00L372.50,835.09L373.21,835.09L373.21,835.13L373.91,835.13L373.91,835.26L374.62,835.26L374.62,835.28L375.32,835.28L375.32,835.31L376.03,835.31L376.03,835.36L376.73,835.36L376.73,835.46L377.44,835.46L377.44,835.47L378.14,835.47L378.14,835.59L378.85,835.59L378.85,835.60L379.56,835.60L379.56,835.66L380.26,835.66L380.26,835.71L380.97,835.71L380.97,835.79L381.67,835.79L381.67,835.88L382.38,835.88L382.38,835.94L383.08,835.94L383.08,835.96L383.79,835.96L383.79,836.04L384.50,836.04L384.50,836.05L385.20,836.05L385.20,836.10L385.91,836.10L385.91,836.09L386.61,836.09L386.61,836.15L387.32,836.15L387.32,836.18L388.02,836.18L388.02,836.20L388.73,836.20L388.73,836.21L389.43,836.21L389.43,836.23L390.14,836.23L390.14,836.27L390.85,836.27L390.85,836.30L391.55,836.30L391.55,836.31L392.26,836.31L392.26,836.32L392.96,836.32L392.96,836.36L393.67,836.36L393.67,836.37L394.37,836.37L394.37,836.43L395.08,836.43L395.08,836.43L395.78,836.43L395.78,836.46L396.49,836.46L396.49,836.49L397.20,836.49L397.20,836.52L397.90,836.52L397.90,836.54L398.61,836.54L398.61,836.56L399.31,836.56L399.31,836.61L400.02,836.61L400.02,836.62L400.72,836.62L400.72,836.65L401.43,836.65L401.43,836.68L402.14,836.68L402.14,836.68L402.84,836.68L402.84,836.68L403.55,836.68L403.55,836.70L404.25,836.70L404.25,836.69L404.96,836.69L404.96,836.70L405.66,836.70L405.66,836.71L406.37,836.71L406.37,836.71L407.07,836.71L407.07,836.72L407.78,836.72L407.78,836.72L408.49,836.72L408.49,836.73L409.19,836.73L409.19,836.72L409.90,836.72L409.90,836.74L410.60,836.74L410.60,836.73L411.31,836.73L411.31,836.74L412.01,836.74L412.01,836.74L412.72,836.74L412.72,836.75L413.42,836.75L413.42,836.76L414.13,836.76L414.13,836.76L414.84,836.76L414.84,836.76L415.54,836.76L415.54,836.77L416.25,836.77L416.25,836.78L416.95,836.78L416.95,836.79L417.66,836.79L417.66,836.79L418.36,836.79L418.36,836.79L419.07,836.79L419.07,836.80L419.78,836.80L419.78,836.80L420.48,836.80L420.48,836.80L421.19,836.80L421.19,836.81L421.89,836.81L421.89,836.81L422.60,836.81L422.60,836.82L423.30,836.82L423.30,836.82L424.01,836.82L424.01,836.83L424.71,836.83L424.71,836.83L425.42,836.83L425.42,836.84L426.13,836.84L426.13,836.84L426.83,836.84L426.83,836.84L427.54,836.84L427.54,836.84L428.24,836.84L428.24,836.85L428.95,836.85L428.95,836.86L429.65,836.86L429.65,836.87L430.36,836.87L430.36,836.87L431.06,836.87L431.06,836.87L431.30,836.87L431.30,837.00Z" fill="#ee82ee"/>
<line x1="284.30" y1="837.00" x2="284.30" y2="839.20" stroke="#666" stroke-width="0.9"/>
<text x="284.30" y="848.20" font-size="11" text-anchor="middle" fill="#222" font-family="Liberation Sans, sans-serif">0.5</text>
<line x1="313.70" y1="837.00" x2="313.70" y2="839.20" stroke="#666" stroke-width="0.9"/>
<text x="313.70" y="848.20" font-size="11" text-anchor="middle" fill="#222" font-family="Liberation Sans, sans-serif">1.0</text>
<line x1="343.10" y1="837.00" x2="343.10" y2="839.20" stroke="#666" stroke-width="0.9"/>
<text x="343.10" y="848.20" font-size="11" text-anchor="middle" fill="#222" font-family="Liberation Sans, sans-serif">1.5</text>
<line x1="372.50" y1="837.00" x2="372.50" y2="839.20" stroke="#666" stroke-width="0.9"/>
<text x="372.50" y="848.20" font-size="11" text-anchor="middle" fill="#222" font-family="Liberation Sans, sans-serif">2.0</text>
<line x1="401.90" y1="837.00" x2="401.90" y2="839.20" stroke="#666" stroke-width="0.9"/>
<text x="401.90" y="848.20" font-size="11" text-anchor="middle" fill="#222" font-family="Liberation Sans, sans-serif">2.5</text>
<line x1="431.30" y1="837.00" x2="431.30" y2="839.20" stroke="#666" stroke-width="0.9"/>
<text x="431.30" y="848.20" font-size="11" text-anchor="middle" fill="#222" font-family="Liberation Sans, sans-serif">3.0</text>
<line x1="275.10" y1="837.00" x2="277.30" y2="837.00" stroke="#666" stroke-width="0.9"/>
<text x="274.30" y="841.00" font-size="11" text-anchor="end" fill="#222" font-family="Liberation Sans, sans-serif">0.00</text>
<line x1="275.10" y1="811.25" x2="277.30" y2="811.25" stroke="#666" stroke-width="0.9"/>
<text x="274.30" y="815.25" font-size="11" text-anchor="end" fill="#222" font-family="Liberation Sans, sans-serif">0.04</text>
<line x1="275.10" y1="785.50" x2="277.30" y2="785.50" stroke="#666" stroke-width="0.9"/>
<text x="274.30" y="789.50" font-size="11" text-anchor="end" fill="#222" font-family="Liberation Sans, sans-serif">0.08</text>
<line x1="275.10" y1="759.75" x2="277.30" y2="759.75" stroke="#666" stroke-width="0.9"/>
<text x="274.30" y="763.75" font-size="11" text-anchor="end" fill="#222" font-family="Liberation Sans, sans-serif">0.12</text>
<line x1="275.10" y1="734.00" x2="277.30" y2="734.00" stroke="#666" stroke-width="0.9"/>
<text x="274.30" y="738.00" font-size="11" text-anchor="end" fill="#222" font-family="Liberation Sans, sans-serif">0.16</text>
<rect x="277.30" y="730.00" width="162.30" height="107.00" fill="none" stroke="#9a9a9a" stroke-width="1.3"/>
<text transform="translate(248.50 783.50) rotate(-90)" font-size="10.5" text-anchor="middle" fill="#222" font-family="Liberation Sans, sans-serif">Frequency</text>
<text x="360.00" y="860.00" font-size="13.5" text-anchor="middle" fill="#222" font-family="Liberation Sans, sans-serif">P<tspan font-size="9.5" dy="3">out</tspan><tspan dy="-3">/P</tspan><tspan font-size="9.5" dy="3">in</tspan></text>
<text x="352.90" y="747.10" font-size="14.5" fill="#1a1a1a" textLength="83" lengthAdjust="spacingAndGlyphs" font-family="Liberation Sans, sans-serif"><tspan font-style="italic">RMS</tspan> = 1.587</text>
<text x="352.90" y="766.50" font-size="14.5" fill="#1a1a1a" textLength="62" lengthAdjust="spacingAndGlyphs" font-family="Liberation Sans, sans-serif"><tspan font-family="Liberation Serif, serif" font-style="italic" font-size="16">σ</tspan> = 0.288</text>
<rect x="490.80" y="737.20" width="1.6" height="99.70" fill="#ee82ee"/>
<line x1="490.60" y1="836.90" x2="490.60" y2="839.10" stroke="#666" stroke-width="0.9"/>
<text x="490.60" y="848.10" font-size="11" text-anchor="middle" fill="#222" font-family="Liberation Sans, sans-serif">0.0</text>
<line x1="514.80" y1="836.90" x2="514.80" y2="839.10" stroke="#666" stroke-width="0.9"/>
<text x="514.80" y="848.10" font-size="11" text-anchor="middle" fill="#222" font-family="Liberation Sans, sans-serif">0.5</text>
<line x1="539.00" y1="836.90" x2="539.00" y2="839.10" stroke="#666" stroke-width="0.9"/>
<text x="539.00" y="848.10" font-size="11" text-anchor="middle" fill="#222" font-family="Liberation Sans, sans-serif">1.0</text>
<line x1="563.20" y1="836.90" x2="563.20" y2="839.10" stroke="#666" stroke-width="0.9"/>
<text x="563.20" y="848.10" font-size="11" text-anchor="middle" fill="#222" font-family="Liberation Sans, sans-serif">1.5</text>
<line x1="587.40" y1="836.90" x2="587.40" y2="839.10" stroke="#666" stroke-width="0.9"/>
<text x="587.40" y="848.10" font-size="11" text-anchor="middle" fill="#222" font-family="Liberation Sans, sans-serif">2.0</text>
<line x1="611.60" y1="836.90" x2="611.60" y2="839.10" stroke="#666" stroke-width="0.9"/>
<text x="611.60" y="848.10" font-size="11" text-anchor="middle" fill="#222" font-family="Liberation Sans, sans-serif">2.5</text>
<line x1="635.80" y1="836.90" x2="635.80" y2="839.10" stroke="#666" stroke-width="0.9"/>
<text x="635.80" y="848.10" font-size="11" text-anchor="middle" fill="#222" font-family="Liberation Sans, sans-serif">3.0</text>
<line x1="481.10" y1="836.90" x2="483.30" y2="836.90" stroke="#666" stroke-width="0.9"/>
<text x="480.30" y="840.90" font-size="11" text-anchor="end" fill="#222" font-family="Liberation Sans, sans-serif">0.0</text>
<line x1="481.10" y1="816.96" x2="483.30" y2="816.96" stroke="#666" stroke-width="0.9"/>
<text x="480.30" y="820.96" font-size="11" text-anchor="end" fill="#222" font-family="Liberation Sans, sans-serif">0.2</text>
<line x1="481.10" y1="797.02" x2="483.30" y2="797.02" stroke="#666" stroke-width="0.9"/>
<text x="480.30" y="801.02" font-size="11" text-anchor="end" fill="#222" font-family="Liberation Sans, sans-serif">0.4</text>
<line x1="481.10" y1="777.08" x2="483.30" y2="777.08" stroke="#666" stroke-width="0.9"/>
<text x="480.30" y="781.08" font-size="11" text-anchor="end" fill="#222" font-family="Liberation Sans, sans-serif">0.6</text>
<line x1="481.10" y1="757.14" x2="483.30" y2="757.14" stroke="#666" stroke-width="0.9"/>
<text x="480.30" y="761.14" font-size="11" text-anchor="end" fill="#222" font-family="Liberation Sans, sans-serif">0.8</text>
<line x1="481.10" y1="737.20" x2="483.30" y2="737.20" stroke="#666" stroke-width="0.9"/>
<text x="480.30" y="741.20" font-size="11" text-anchor="end" fill="#222" font-family="Liberation Sans, sans-serif">1.0</text>
<rect x="483.30" y="732.30" width="159.80" height="104.60" fill="none" stroke="#9a9a9a" stroke-width="1.3"/>
<text transform="translate(460.00 784.60) rotate(-90)" font-size="10.5" text-anchor="middle" fill="#222" font-family="Liberation Sans, sans-serif">Frequency</text>
<text x="567.00" y="860.00" font-size="13.5" text-anchor="middle" fill="#222" font-family="Liberation Sans, sans-serif">P<tspan font-size="9.5" dy="3">out</tspan><tspan dy="-3">/P</tspan><tspan font-size="9.5" dy="3">in</tspan></text>
<text x="555.40" y="747.10" font-size="14.5" fill="#1a1a1a" textLength="83" lengthAdjust="spacingAndGlyphs" font-family="Liberation Sans, sans-serif"><tspan font-style="italic">RMS</tspan> = 1.004</text>
<text x="555.40" y="766.50" font-size="14.5" fill="#1a1a1a" textLength="62" lengthAdjust="spacingAndGlyphs" font-family="Liberation Sans, sans-serif"><tspan font-family="Liberation Serif, serif" font-style="italic" font-size="16">σ</tspan> = 0.001</text>
<text x="17.3" y="560.7" font-size="16" fill="#1a1a1a" font-family="Liberation Sans, sans-serif">(d)</text>
<text x="17.3" y="718.9" font-size="16" fill="#1a1a1a" font-family="Liberation Sans, sans-serif">(e)</text>
</svg></body></html>
